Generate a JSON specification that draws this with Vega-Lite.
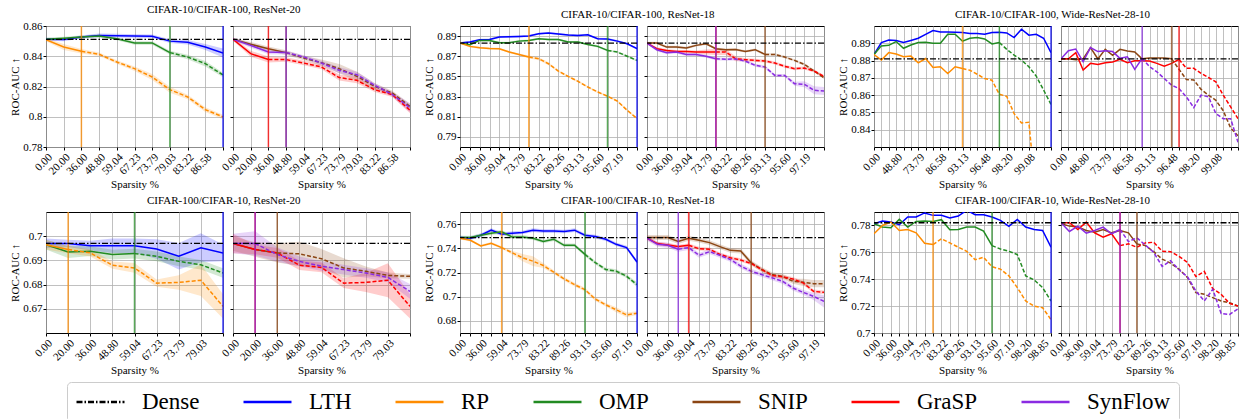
{
"$schema":"https://vega.github.io/schema/vega-lite/v6.json",
"padding":{"left":9,"top":3,"right":0,"bottom":0},
"config":{
 "font":"Liberation Serif",
 "view":{"stroke":"#000","strokeWidth":1},
 "axis":{"labelFont":"Liberation Serif","titleFont":"Liberation Serif","labelFontSize":11,"titleFontSize":11,"titleFontWeight":"normal","labelColor":"#000","titleColor":"#000","tickColor":"#000","tickSize":3,"domain":false,"gridColor":"#b0b0b0","gridWidth":0.8,"gridOpacity":1,"labelOverlap":false},
 "axisX":{"labelAngle":-45,"labelAlign":"right","labelBaseline":"top","labelPadding":1,"titlePadding":2,"labelFlush":false},
 "axisY":{"labelPadding":1,"titlePadding":2},
 "title":{"font":"Liberation Serif","fontSize":11,"fontWeight":"normal","anchor":"start","frame":"group","offset":5,"color":"#000","baseline":"bottom"},
 "legend":{"orient":"none","legendX":21,"legendY":356,"direction":"horizontal","columns":7,"symbolType":"stroke","symbolSize":2304,"symbolStrokeWidth":2.5,"symbolOpacity":1,"labelFont":"Liberation Serif","labelFontSize":23,"labelColor":"#000","labelOffset":16,"columnPadding":42,"padding":8,"strokeColor":"#cccccc","fillColor":"#ffffff","cornerRadius":4,"clipHeight":24,"labelLimit":300}
},
"datasets":{
"dn":[
{"p":"a","s":"Dense","y":0.8512},{"p":"b","s":"Dense","y":0.8512},
{"p":"c","s":"Dense","y":0.883},{"p":"d","s":"Dense","y":0.883},
{"p":"e","s":"Dense","y":0.881},{"p":"f","s":"Dense","y":0.881},
{"p":"g","s":"Dense","y":0.697},{"p":"h","s":"Dense","y":0.697},
{"p":"i","s":"Dense","y":0.7489},{"p":"j","s":"Dense","y":0.7489},
{"p":"k","s":"Dense","y":0.782},{"p":"l","s":"Dense","y":0.782}
],
"v":[
{"p":"a","s":"LTH","x":10},{"p":"a","s":"OMP","x":7},{"p":"a","s":"RP","x":2},
{"p":"b","s":"GraSP","x":2},{"p":"b","s":"SNIP","x":3},{"p":"b","s":"SynFlow","x":3},
{"p":"c","s":"LTH","x":18},{"p":"c","s":"OMP","x":15},{"p":"c","s":"RP","x":7},
{"p":"d","s":"SNIP","x":12},{"p":"d","s":"GraSP","x":7},{"p":"d","s":"SynFlow","x":7},
{"p":"e","s":"LTH","x":24},{"p":"e","s":"OMP","x":17},{"p":"e","s":"RP","x":12},
{"p":"f","s":"SNIP","x":15},{"p":"f","s":"GraSP","x":16},{"p":"f","s":"SynFlow","x":11},
{"p":"g","s":"LTH","x":8},{"p":"g","s":"OMP","x":4},{"p":"g","s":"RP","x":1},
{"p":"h","s":"GraSP","x":1},{"p":"h","s":"SynFlow","x":1},{"p":"h","s":"SNIP","x":2},
{"p":"i","s":"LTH","x":17},{"p":"i","s":"OMP","x":12},{"p":"i","s":"RP","x":4},
{"p":"j","s":"SNIP","x":10},{"p":"j","s":"GraSP","x":4},{"p":"j","s":"SynFlow","x":3},
{"p":"k","s":"LTH","x":21},{"p":"k","s":"OMP","x":14},{"p":"k","s":"RP","x":7},
{"p":"l","s":"SNIP","x":9},{"p":"l","s":"GraSP","x":7},{"p":"l","s":"SynFlow","x":7}
],
"d":[
{"p":"a","s":"LTH","x":0,"y":0.8512,"w":0,"l":0.8502,"h":0.8522},
{"p":"a","s":"LTH","x":1,"y":0.8510,"w":0,"l":0.8500,"h":0.8520},
{"p":"a","s":"LTH","x":2,"y":0.8527,"w":0,"l":0.8517,"h":0.8537},
{"p":"a","s":"LTH","x":3,"y":0.8538,"w":0,"l":0.8526,"h":0.8550},
{"p":"a","s":"LTH","x":4,"y":0.8536,"w":0,"l":0.8524,"h":0.8548},
{"p":"a","s":"LTH","x":5,"y":0.8534,"w":0,"l":0.8522,"h":0.8546},
{"p":"a","s":"LTH","x":6,"y":0.8532,"w":0,"l":0.8520,"h":0.8544},
{"p":"a","s":"LTH","x":7,"y":0.8500,"w":0,"l":0.8488,"h":0.8512},
{"p":"a","s":"LTH","x":8,"y":0.8492,"w":0,"l":0.8477,"h":0.8507},
{"p":"a","s":"LTH","x":9,"y":0.8461,"w":0,"l":0.8441,"h":0.8481},
{"p":"a","s":"LTH","x":10,"y":0.8422,"w":1,"l":0.8392,"h":0.8452},
{"p":"a","s":"OMP","x":0,"y":0.8512,"w":0,"l":0.8502,"h":0.8522},
{"p":"a","s":"OMP","x":1,"y":0.8519,"w":0,"l":0.8509,"h":0.8529},
{"p":"a","s":"OMP","x":2,"y":0.8527,"w":0,"l":0.8517,"h":0.8537},
{"p":"a","s":"OMP","x":3,"y":0.8534,"w":0,"l":0.8524,"h":0.8544},
{"p":"a","s":"OMP","x":4,"y":0.8516,"w":0,"l":0.8506,"h":0.8526},
{"p":"a","s":"OMP","x":5,"y":0.8488,"w":0,"l":0.8476,"h":0.8500},
{"p":"a","s":"OMP","x":6,"y":0.8488,"w":0,"l":0.8476,"h":0.8500},
{"p":"a","s":"OMP","x":7,"y":0.8424,"w":1,"l":0.8412,"h":0.8436},
{"p":"a","s":"OMP","x":8,"y":0.8395,"w":2,"l":0.8380,"h":0.8410},
{"p":"a","s":"OMP","x":9,"y":0.8351,"w":2,"l":0.8333,"h":0.8369},
{"p":"a","s":"OMP","x":10,"y":0.8276,"w":2,"l":0.8261,"h":0.8291},
{"p":"a","s":"RP","x":0,"y":0.8510,"w":0,"l":0.8500,"h":0.8520},
{"p":"a","s":"RP","x":1,"y":0.8461,"w":0,"l":0.8441,"h":0.8481},
{"p":"a","s":"RP","x":2,"y":0.8433,"w":1,"l":0.8418,"h":0.8448},
{"p":"a","s":"RP","x":3,"y":0.8413,"w":2,"l":0.8401,"h":0.8425},
{"p":"a","s":"RP","x":4,"y":0.8362,"w":2,"l":0.8350,"h":0.8374},
{"p":"a","s":"RP","x":5,"y":0.8318,"w":2,"l":0.8303,"h":0.8333},
{"p":"a","s":"RP","x":6,"y":0.8263,"w":2,"l":0.8243,"h":0.8283},
{"p":"a","s":"RP","x":7,"y":0.8179,"w":2,"l":0.8159,"h":0.8199},
{"p":"a","s":"RP","x":8,"y":0.8131,"w":2,"l":0.8116,"h":0.8146},
{"p":"a","s":"RP","x":9,"y":0.8047,"w":2,"l":0.8032,"h":0.8062},
{"p":"a","s":"RP","x":10,"y":0.7999,"w":2,"l":0.7984,"h":0.8014},
{"p":"b","s":"SNIP","x":0,"y":0.8512,"w":0,"l":0.8502,"h":0.8522},
{"p":"b","s":"SNIP","x":1,"y":0.8479,"w":0,"l":0.8464,"h":0.8494},
{"p":"b","s":"SNIP","x":2,"y":0.8450,"w":0,"l":0.8435,"h":0.8465},
{"p":"b","s":"SNIP","x":3,"y":0.8424,"w":1,"l":0.8409,"h":0.8439},
{"p":"b","s":"SNIP","x":4,"y":0.8388,"w":2,"l":0.8373,"h":0.8403},
{"p":"b","s":"SNIP","x":5,"y":0.8358,"w":2,"l":0.8338,"h":0.8378},
{"p":"b","s":"SNIP","x":6,"y":0.8318,"w":2,"l":0.8288,"h":0.8348},
{"p":"b","s":"SNIP","x":7,"y":0.8267,"w":2,"l":0.8237,"h":0.8297},
{"p":"b","s":"SNIP","x":8,"y":0.8201,"w":2,"l":0.8181,"h":0.8221},
{"p":"b","s":"SNIP","x":9,"y":0.8157,"w":2,"l":0.8142,"h":0.8172},
{"p":"b","s":"SNIP","x":10,"y":0.8069,"w":2,"l":0.8054,"h":0.8084},
{"p":"b","s":"GraSP","x":0,"y":0.8512,"w":0,"l":0.8502,"h":0.8522},
{"p":"b","s":"GraSP","x":1,"y":0.8417,"w":0,"l":0.8397,"h":0.8437},
{"p":"b","s":"GraSP","x":2,"y":0.8378,"w":1,"l":0.8358,"h":0.8398},
{"p":"b","s":"GraSP","x":3,"y":0.8378,"w":2,"l":0.8363,"h":0.8393},
{"p":"b","s":"GraSP","x":4,"y":0.8355,"w":2,"l":0.8340,"h":0.8370},
{"p":"b","s":"GraSP","x":5,"y":0.8329,"w":2,"l":0.8314,"h":0.8344},
{"p":"b","s":"GraSP","x":6,"y":0.8259,"w":2,"l":0.8239,"h":0.8279},
{"p":"b","s":"GraSP","x":7,"y":0.8241,"w":2,"l":0.8221,"h":0.8261},
{"p":"b","s":"GraSP","x":8,"y":0.8179,"w":2,"l":0.8164,"h":0.8194},
{"p":"b","s":"GraSP","x":9,"y":0.8146,"w":2,"l":0.8131,"h":0.8161},
{"p":"b","s":"GraSP","x":10,"y":0.8043,"w":2,"l":0.8023,"h":0.8063},
{"p":"b","s":"SynFlow","x":0,"y":0.8512,"w":0,"l":0.8502,"h":0.8522},
{"p":"b","s":"SynFlow","x":1,"y":0.8472,"w":0,"l":0.8457,"h":0.8487},
{"p":"b","s":"SynFlow","x":2,"y":0.8428,"w":0,"l":0.8413,"h":0.8443},
{"p":"b","s":"SynFlow","x":3,"y":0.8424,"w":1,"l":0.8412,"h":0.8436},
{"p":"b","s":"SynFlow","x":4,"y":0.8395,"w":2,"l":0.8383,"h":0.8407},
{"p":"b","s":"SynFlow","x":5,"y":0.8355,"w":2,"l":0.8340,"h":0.8370},
{"p":"b","s":"SynFlow","x":6,"y":0.8307,"w":2,"l":0.8287,"h":0.8327},
{"p":"b","s":"SynFlow","x":7,"y":0.8278,"w":2,"l":0.8258,"h":0.8298},
{"p":"b","s":"SynFlow","x":8,"y":0.8208,"w":2,"l":0.8193,"h":0.8223},
{"p":"b","s":"SynFlow","x":9,"y":0.8148,"w":2,"l":0.8133,"h":0.8163},
{"p":"b","s":"SynFlow","x":10,"y":0.8060,"w":2,"l":0.8030,"h":0.8090},
{"p":"c","s":"LTH","x":0,"y":0.8831,"w":0,"l":0.8821,"h":0.8841},
{"p":"c","s":"LTH","x":1,"y":0.8841,"w":0,"l":0.8831,"h":0.8851},
{"p":"c","s":"LTH","x":2,"y":0.8864,"w":0,"l":0.8854,"h":0.8874},
{"p":"c","s":"LTH","x":3,"y":0.8867,"w":0,"l":0.8857,"h":0.8877},
{"p":"c","s":"LTH","x":4,"y":0.8890,"w":0,"l":0.8880,"h":0.8900},
{"p":"c","s":"LTH","x":5,"y":0.8893,"w":0,"l":0.8883,"h":0.8903},
{"p":"c","s":"LTH","x":6,"y":0.8897,"w":0,"l":0.8887,"h":0.8907},
{"p":"c","s":"LTH","x":7,"y":0.8900,"w":0,"l":0.8890,"h":0.8910},
{"p":"c","s":"LTH","x":8,"y":0.8923,"w":0,"l":0.8913,"h":0.8933},
{"p":"c","s":"LTH","x":9,"y":0.8930,"w":0,"l":0.8920,"h":0.8940},
{"p":"c","s":"LTH","x":10,"y":0.8920,"w":0,"l":0.8910,"h":0.8930},
{"p":"c","s":"LTH","x":11,"y":0.8910,"w":0,"l":0.8900,"h":0.8920},
{"p":"c","s":"LTH","x":12,"y":0.8907,"w":0,"l":0.8897,"h":0.8917},
{"p":"c","s":"LTH","x":13,"y":0.8913,"w":0,"l":0.8903,"h":0.8923},
{"p":"c","s":"LTH","x":14,"y":0.8874,"w":0,"l":0.8864,"h":0.8884},
{"p":"c","s":"LTH","x":15,"y":0.8870,"w":0,"l":0.8860,"h":0.8880},
{"p":"c","s":"LTH","x":16,"y":0.8850,"w":0,"l":0.8840,"h":0.8860},
{"p":"c","s":"LTH","x":17,"y":0.8824,"w":0,"l":0.8814,"h":0.8834},
{"p":"c","s":"LTH","x":18,"y":0.8775,"w":1,"l":0.8765,"h":0.8785},
{"p":"c","s":"OMP","x":0,"y":0.8831,"w":0,"l":0.8821,"h":0.8841},
{"p":"c","s":"OMP","x":1,"y":0.8814,"w":0,"l":0.8804,"h":0.8824},
{"p":"c","s":"OMP","x":2,"y":0.8857,"w":0,"l":0.8847,"h":0.8867},
{"p":"c","s":"OMP","x":3,"y":0.8857,"w":0,"l":0.8847,"h":0.8867},
{"p":"c","s":"OMP","x":4,"y":0.8834,"w":0,"l":0.8824,"h":0.8844},
{"p":"c","s":"OMP","x":5,"y":0.8834,"w":0,"l":0.8824,"h":0.8844},
{"p":"c","s":"OMP","x":6,"y":0.8850,"w":0,"l":0.8840,"h":0.8860},
{"p":"c","s":"OMP","x":7,"y":0.8857,"w":0,"l":0.8847,"h":0.8867},
{"p":"c","s":"OMP","x":8,"y":0.8874,"w":0,"l":0.8864,"h":0.8884},
{"p":"c","s":"OMP","x":9,"y":0.8867,"w":0,"l":0.8857,"h":0.8877},
{"p":"c","s":"OMP","x":10,"y":0.8867,"w":0,"l":0.8857,"h":0.8877},
{"p":"c","s":"OMP","x":11,"y":0.8841,"w":0,"l":0.8831,"h":0.8851},
{"p":"c","s":"OMP","x":12,"y":0.8841,"w":0,"l":0.8831,"h":0.8851},
{"p":"c","s":"OMP","x":13,"y":0.8817,"w":0,"l":0.8807,"h":0.8827},
{"p":"c","s":"OMP","x":14,"y":0.8798,"w":0,"l":0.8788,"h":0.8808},
{"p":"c","s":"OMP","x":15,"y":0.8758,"w":1,"l":0.8748,"h":0.8768},
{"p":"c","s":"OMP","x":16,"y":0.8742,"w":2,"l":0.8732,"h":0.8752},
{"p":"c","s":"OMP","x":17,"y":0.8700,"w":2,"l":0.8690,"h":0.8710},
{"p":"c","s":"OMP","x":18,"y":0.8659,"w":2,"l":0.8649,"h":0.8669},
{"p":"c","s":"RP","x":0,"y":0.8831,"w":0,"l":0.8821,"h":0.8841},
{"p":"c","s":"RP","x":1,"y":0.8798,"w":0,"l":0.8788,"h":0.8808},
{"p":"c","s":"RP","x":2,"y":0.8784,"w":0,"l":0.8774,"h":0.8794},
{"p":"c","s":"RP","x":3,"y":0.8778,"w":0,"l":0.8768,"h":0.8788},
{"p":"c","s":"RP","x":4,"y":0.8775,"w":0,"l":0.8765,"h":0.8785},
{"p":"c","s":"RP","x":5,"y":0.8742,"w":0,"l":0.8732,"h":0.8752},
{"p":"c","s":"RP","x":6,"y":0.8718,"w":0,"l":0.8708,"h":0.8728},
{"p":"c","s":"RP","x":7,"y":0.8692,"w":1,"l":0.8677,"h":0.8707},
{"p":"c","s":"RP","x":8,"y":0.8676,"w":2,"l":0.8661,"h":0.8691},
{"p":"c","s":"RP","x":9,"y":0.8626,"w":2,"l":0.8611,"h":0.8641},
{"p":"c","s":"RP","x":10,"y":0.8553,"w":2,"l":0.8543,"h":0.8563},
{"p":"c","s":"RP","x":11,"y":0.8500,"w":2,"l":0.8490,"h":0.8510},
{"p":"c","s":"RP","x":12,"y":0.8451,"w":2,"l":0.8441,"h":0.8461},
{"p":"c","s":"RP","x":13,"y":0.8395,"w":2,"l":0.8385,"h":0.8405},
{"p":"c","s":"RP","x":14,"y":0.8346,"w":2,"l":0.8336,"h":0.8356},
{"p":"c","s":"RP","x":15,"y":0.8303,"w":2,"l":0.8293,"h":0.8313},
{"p":"c","s":"RP","x":16,"y":0.8256,"w":2,"l":0.8246,"h":0.8266},
{"p":"c","s":"RP","x":17,"y":0.8164,"w":2,"l":0.8154,"h":0.8174},
{"p":"c","s":"RP","x":18,"y":0.8082,"w":2,"l":0.8072,"h":0.8092},
{"p":"d","s":"SNIP","x":0,"y":0.8831,"w":0,"l":0.8819,"h":0.8843},
{"p":"d","s":"SNIP","x":1,"y":0.8831,"w":0,"l":0.8819,"h":0.8843},
{"p":"d","s":"SNIP","x":2,"y":0.8791,"w":0,"l":0.8779,"h":0.8803},
{"p":"d","s":"SNIP","x":3,"y":0.8791,"w":0,"l":0.8779,"h":0.8803},
{"p":"d","s":"SNIP","x":4,"y":0.8781,"w":0,"l":0.8769,"h":0.8793},
{"p":"d","s":"SNIP","x":5,"y":0.8808,"w":0,"l":0.8796,"h":0.8820},
{"p":"d","s":"SNIP","x":6,"y":0.8824,"w":0,"l":0.8812,"h":0.8836},
{"p":"d","s":"SNIP","x":7,"y":0.8775,"w":0,"l":0.8763,"h":0.8787},
{"p":"d","s":"SNIP","x":8,"y":0.8765,"w":0,"l":0.8753,"h":0.8777},
{"p":"d","s":"SNIP","x":9,"y":0.8767,"w":0,"l":0.8755,"h":0.8779},
{"p":"d","s":"SNIP","x":10,"y":0.8748,"w":0,"l":0.8736,"h":0.8760},
{"p":"d","s":"SNIP","x":11,"y":0.8765,"w":0,"l":0.8753,"h":0.8777},
{"p":"d","s":"SNIP","x":12,"y":0.8718,"w":1,"l":0.8706,"h":0.8730},
{"p":"d","s":"SNIP","x":13,"y":0.8718,"w":2,"l":0.8706,"h":0.8730},
{"p":"d","s":"SNIP","x":14,"y":0.8692,"w":2,"l":0.8680,"h":0.8704},
{"p":"d","s":"SNIP","x":15,"y":0.8659,"w":2,"l":0.8647,"h":0.8671},
{"p":"d","s":"SNIP","x":16,"y":0.8619,"w":2,"l":0.8607,"h":0.8631},
{"p":"d","s":"SNIP","x":17,"y":0.8553,"w":2,"l":0.8541,"h":0.8565},
{"p":"d","s":"SNIP","x":18,"y":0.8487,"w":2,"l":0.8475,"h":0.8499},
{"p":"d","s":"GraSP","x":0,"y":0.8831,"w":0,"l":0.8821,"h":0.8841},
{"p":"d","s":"GraSP","x":1,"y":0.8775,"w":0,"l":0.8760,"h":0.8790},
{"p":"d","s":"GraSP","x":2,"y":0.8758,"w":0,"l":0.8743,"h":0.8773},
{"p":"d","s":"GraSP","x":3,"y":0.8748,"w":0,"l":0.8733,"h":0.8763},
{"p":"d","s":"GraSP","x":4,"y":0.8748,"w":0,"l":0.8733,"h":0.8763},
{"p":"d","s":"GraSP","x":5,"y":0.8742,"w":0,"l":0.8727,"h":0.8757},
{"p":"d","s":"GraSP","x":6,"y":0.8742,"w":0,"l":0.8717,"h":0.8767},
{"p":"d","s":"GraSP","x":7,"y":0.8742,"w":1,"l":0.8712,"h":0.8772},
{"p":"d","s":"GraSP","x":8,"y":0.8742,"w":2,"l":0.8712,"h":0.8772},
{"p":"d","s":"GraSP","x":9,"y":0.8676,"w":2,"l":0.8651,"h":0.8701},
{"p":"d","s":"GraSP","x":10,"y":0.8666,"w":2,"l":0.8651,"h":0.8681},
{"p":"d","s":"GraSP","x":11,"y":0.8659,"w":2,"l":0.8644,"h":0.8674},
{"p":"d","s":"GraSP","x":12,"y":0.8652,"w":2,"l":0.8637,"h":0.8667},
{"p":"d","s":"GraSP","x":13,"y":0.8633,"w":2,"l":0.8618,"h":0.8648},
{"p":"d","s":"GraSP","x":14,"y":0.8600,"w":2,"l":0.8585,"h":0.8615},
{"p":"d","s":"GraSP","x":15,"y":0.8577,"w":2,"l":0.8562,"h":0.8592},
{"p":"d","s":"GraSP","x":16,"y":0.8583,"w":2,"l":0.8568,"h":0.8598},
{"p":"d","s":"GraSP","x":17,"y":0.8553,"w":2,"l":0.8538,"h":0.8568},
{"p":"d","s":"GraSP","x":18,"y":0.8500,"w":2,"l":0.8485,"h":0.8515},
{"p":"d","s":"SynFlow","x":0,"y":0.8831,"w":0,"l":0.8816,"h":0.8846},
{"p":"d","s":"SynFlow","x":1,"y":0.8765,"w":0,"l":0.8750,"h":0.8780},
{"p":"d","s":"SynFlow","x":2,"y":0.8735,"w":0,"l":0.8720,"h":0.8750},
{"p":"d","s":"SynFlow","x":3,"y":0.8742,"w":0,"l":0.8727,"h":0.8757},
{"p":"d","s":"SynFlow","x":4,"y":0.8718,"w":0,"l":0.8703,"h":0.8733},
{"p":"d","s":"SynFlow","x":5,"y":0.8718,"w":0,"l":0.8703,"h":0.8733},
{"p":"d","s":"SynFlow","x":6,"y":0.8699,"w":0,"l":0.8684,"h":0.8714},
{"p":"d","s":"SynFlow","x":7,"y":0.8676,"w":1,"l":0.8661,"h":0.8691},
{"p":"d","s":"SynFlow","x":8,"y":0.8670,"w":2,"l":0.8655,"h":0.8685},
{"p":"d","s":"SynFlow","x":9,"y":0.8673,"w":2,"l":0.8658,"h":0.8688},
{"p":"d","s":"SynFlow","x":10,"y":0.8652,"w":2,"l":0.8637,"h":0.8667},
{"p":"d","s":"SynFlow","x":11,"y":0.8610,"w":2,"l":0.8595,"h":0.8625},
{"p":"d","s":"SynFlow","x":12,"y":0.8593,"w":2,"l":0.8578,"h":0.8608},
{"p":"d","s":"SynFlow","x":13,"y":0.8510,"w":2,"l":0.8495,"h":0.8525},
{"p":"d","s":"SynFlow","x":14,"y":0.8510,"w":2,"l":0.8495,"h":0.8525},
{"p":"d","s":"SynFlow","x":15,"y":0.8428,"w":2,"l":0.8408,"h":0.8448},
{"p":"d","s":"SynFlow","x":16,"y":0.8422,"w":2,"l":0.8392,"h":0.8452},
{"p":"d","s":"SynFlow","x":17,"y":0.8362,"w":2,"l":0.8322,"h":0.8402},
{"p":"d","s":"SynFlow","x":18,"y":0.8355,"w":2,"l":0.8315,"h":0.8395},
{"p":"e","s":"LTH","x":0,"y":0.8835,"w":0},{"p":"e","s":"LTH","x":1,"y":0.8904,"w":0},{"p":"e","s":"LTH","x":2,"y":0.8919,"w":0},{"p":"e","s":"LTH","x":3,"y":0.8916,"w":0},{"p":"e","s":"LTH","x":4,"y":0.8904,"w":0},{"p":"e","s":"LTH","x":5,"y":0.8916,"w":0},{"p":"e","s":"LTH","x":6,"y":0.8929,"w":0},{"p":"e","s":"LTH","x":7,"y":0.8952,"w":0},{"p":"e","s":"LTH","x":8,"y":0.8974,"w":0},{"p":"e","s":"LTH","x":9,"y":0.8966,"w":0},{"p":"e","s":"LTH","x":10,"y":0.8966,"w":0},{"p":"e","s":"LTH","x":11,"y":0.8964,"w":0},{"p":"e","s":"LTH","x":12,"y":0.8962,"w":0},{"p":"e","s":"LTH","x":13,"y":0.8956,"w":0},{"p":"e","s":"LTH","x":14,"y":0.8956,"w":0},{"p":"e","s":"LTH","x":15,"y":0.8952,"w":0},{"p":"e","s":"LTH","x":16,"y":0.8962,"w":0},{"p":"e","s":"LTH","x":17,"y":0.8964,"w":0},{"p":"e","s":"LTH","x":18,"y":0.8960,"w":0},{"p":"e","s":"LTH","x":19,"y":0.8933,"w":0},{"p":"e","s":"LTH","x":20,"y":0.8981,"w":0},{"p":"e","s":"LTH","x":21,"y":0.8947,"w":0},{"p":"e","s":"LTH","x":22,"y":0.8952,"w":0},{"p":"e","s":"LTH","x":23,"y":0.8929,"w":0},{"p":"e","s":"LTH","x":24,"y":0.8846,"w":1},
{"p":"e","s":"OMP","x":0,"y":0.8835,"w":0},{"p":"e","s":"OMP","x":1,"y":0.8885,"w":0},{"p":"e","s":"OMP","x":2,"y":0.8888,"w":0},{"p":"e","s":"OMP","x":3,"y":0.8910,"w":0},{"p":"e","s":"OMP","x":4,"y":0.8871,"w":0},{"p":"e","s":"OMP","x":5,"y":0.8890,"w":0},{"p":"e","s":"OMP","x":6,"y":0.8904,"w":0},{"p":"e","s":"OMP","x":7,"y":0.8906,"w":0},{"p":"e","s":"OMP","x":8,"y":0.8900,"w":0},{"p":"e","s":"OMP","x":9,"y":0.8900,"w":0},{"p":"e","s":"OMP","x":10,"y":0.8952,"w":0},{"p":"e","s":"OMP","x":11,"y":0.8952,"w":0},{"p":"e","s":"OMP","x":12,"y":0.8912,"w":0},{"p":"e","s":"OMP","x":13,"y":0.8929,"w":0},{"p":"e","s":"OMP","x":14,"y":0.8933,"w":0},{"p":"e","s":"OMP","x":15,"y":0.8925,"w":0},{"p":"e","s":"OMP","x":16,"y":0.8896,"w":0},{"p":"e","s":"OMP","x":17,"y":0.8904,"w":1},{"p":"e","s":"OMP","x":18,"y":0.8865,"w":2},{"p":"e","s":"OMP","x":19,"y":0.8832,"w":2},{"p":"e","s":"OMP","x":20,"y":0.8803,"w":2},{"p":"e","s":"OMP","x":21,"y":0.8764,"w":2},{"p":"e","s":"OMP","x":22,"y":0.8710,"w":2},{"p":"e","s":"OMP","x":23,"y":0.8629,"w":2},{"p":"e","s":"OMP","x":24,"y":0.8547,"w":2},
{"p":"e","s":"RP","x":0,"y":0.8835,"w":0},{"p":"e","s":"RP","x":1,"y":0.8803,"w":0},{"p":"e","s":"RP","x":2,"y":0.8846,"w":0},{"p":"e","s":"RP","x":3,"y":0.8838,"w":0},{"p":"e","s":"RP","x":4,"y":0.8822,"w":0},{"p":"e","s":"RP","x":5,"y":0.8826,"w":0},{"p":"e","s":"RP","x":6,"y":0.8787,"w":0},{"p":"e","s":"RP","x":7,"y":0.8812,"w":0},{"p":"e","s":"RP","x":8,"y":0.8760,"w":0},{"p":"e","s":"RP","x":9,"y":0.8764,"w":0},{"p":"e","s":"RP","x":10,"y":0.8725,"w":0},{"p":"e","s":"RP","x":11,"y":0.8764,"w":0},{"p":"e","s":"RP","x":12,"y":0.8754,"w":1},{"p":"e","s":"RP","x":13,"y":0.8744,"w":2},{"p":"e","s":"RP","x":14,"y":0.8721,"w":2},{"p":"e","s":"RP","x":15,"y":0.8696,"w":2},{"p":"e","s":"RP","x":16,"y":0.8686,"w":2},{"p":"e","s":"RP","x":17,"y":0.8605,"w":2},{"p":"e","s":"RP","x":18,"y":0.8593,"w":2},{"p":"e","s":"RP","x":19,"y":0.8493,"w":2},{"p":"e","s":"RP","x":20,"y":0.8439,"w":2},{"p":"e","s":"RP","x":21,"y":0.8443,"w":2},{"p":"e","s":"RP","x":22,"y":0.8000,"w":2},{"p":"e","s":"RP","x":23,"y":0.7900,"w":2},{"p":"e","s":"RP","x":24,"y":0.7800,"w":2},
{"p":"f","s":"SNIP","x":0,"y":0.881,"w":0},{"p":"f","s":"SNIP","x":1,"y":0.881,"w":0},{"p":"f","s":"SNIP","x":2,"y":0.8805,"w":0},{"p":"f","s":"SNIP","x":3,"y":0.881,"w":0},{"p":"f","s":"SNIP","x":4,"y":0.8875,"w":0},{"p":"f","s":"SNIP","x":5,"y":0.881,"w":0},{"p":"f","s":"SNIP","x":6,"y":0.8865,"w":0},{"p":"f","s":"SNIP","x":7,"y":0.883,"w":0},{"p":"f","s":"SNIP","x":8,"y":0.8865,"w":0},{"p":"f","s":"SNIP","x":9,"y":0.8855,"w":0},{"p":"f","s":"SNIP","x":10,"y":0.885,"w":0},{"p":"f","s":"SNIP","x":11,"y":0.881,"w":0},{"p":"f","s":"SNIP","x":12,"y":0.8815,"w":0},{"p":"f","s":"SNIP","x":13,"y":0.8815,"w":0},{"p":"f","s":"SNIP","x":14,"y":0.8815,"w":0},{"p":"f","s":"SNIP","x":15,"y":0.881,"w":1},{"p":"f","s":"SNIP","x":16,"y":0.875,"w":2},{"p":"f","s":"SNIP","x":17,"y":0.869,"w":2},{"p":"f","s":"SNIP","x":18,"y":0.8688,"w":2},{"p":"f","s":"SNIP","x":19,"y":0.8633,"w":2},{"p":"f","s":"SNIP","x":20,"y":0.86,"w":2},{"p":"f","s":"SNIP","x":21,"y":0.857,"w":2},{"p":"f","s":"SNIP","x":22,"y":0.851,"w":2},{"p":"f","s":"SNIP","x":23,"y":0.841,"w":2},{"p":"f","s":"SNIP","x":24,"y":0.8365,"w":2},
{"p":"f","s":"GraSP","x":0,"y":0.881,"w":0},{"p":"f","s":"GraSP","x":1,"y":0.881,"w":0},{"p":"f","s":"GraSP","x":2,"y":0.8846,"w":0},{"p":"f","s":"GraSP","x":3,"y":0.8745,"w":0},{"p":"f","s":"GraSP","x":4,"y":0.8784,"w":0},{"p":"f","s":"GraSP","x":5,"y":0.8778,"w":0},{"p":"f","s":"GraSP","x":6,"y":0.8788,"w":0},{"p":"f","s":"GraSP","x":7,"y":0.8792,"w":0},{"p":"f","s":"GraSP","x":8,"y":0.8807,"w":0},{"p":"f","s":"GraSP","x":9,"y":0.8788,"w":0},{"p":"f","s":"GraSP","x":10,"y":0.8799,"w":0},{"p":"f","s":"GraSP","x":11,"y":0.8799,"w":0},{"p":"f","s":"GraSP","x":12,"y":0.8797,"w":0},{"p":"f","s":"GraSP","x":13,"y":0.8784,"w":0},{"p":"f","s":"GraSP","x":14,"y":0.8768,"w":0},{"p":"f","s":"GraSP","x":15,"y":0.8784,"w":0},{"p":"f","s":"GraSP","x":16,"y":0.8807,"w":1},{"p":"f","s":"GraSP","x":17,"y":0.8755,"w":2},{"p":"f","s":"GraSP","x":18,"y":0.8755,"w":2},{"p":"f","s":"GraSP","x":19,"y":0.8726,"w":2},{"p":"f","s":"GraSP","x":20,"y":0.8702,"w":2},{"p":"f","s":"GraSP","x":21,"y":0.8677,"w":2},{"p":"f","s":"GraSP","x":22,"y":0.86,"w":2},{"p":"f","s":"GraSP","x":23,"y":0.8532,"w":2},{"p":"f","s":"GraSP","x":24,"y":0.8464,"w":2},
{"p":"f","s":"SynFlow","x":0,"y":0.881,"w":0},{"p":"f","s":"SynFlow","x":1,"y":0.8857,"w":0},{"p":"f","s":"SynFlow","x":2,"y":0.8867,"w":0},{"p":"f","s":"SynFlow","x":3,"y":0.8793,"w":0},{"p":"f","s":"SynFlow","x":4,"y":0.8875,"w":0},{"p":"f","s":"SynFlow","x":5,"y":0.8852,"w":0},{"p":"f","s":"SynFlow","x":6,"y":0.8857,"w":0},{"p":"f","s":"SynFlow","x":7,"y":0.8852,"w":0},{"p":"f","s":"SynFlow","x":8,"y":0.8813,"w":0},{"p":"f","s":"SynFlow","x":9,"y":0.8822,"w":0},{"p":"f","s":"SynFlow","x":10,"y":0.8749,"w":0},{"p":"f","s":"SynFlow","x":11,"y":0.8813,"w":1},{"p":"f","s":"SynFlow","x":12,"y":0.8764,"w":2},{"p":"f","s":"SynFlow","x":13,"y":0.8735,"w":2},{"p":"f","s":"SynFlow","x":14,"y":0.8696,"w":2},{"p":"f","s":"SynFlow","x":15,"y":0.8658,"w":2},{"p":"f","s":"SynFlow","x":16,"y":0.8638,"w":2},{"p":"f","s":"SynFlow","x":17,"y":0.859,"w":2},{"p":"f","s":"SynFlow","x":18,"y":0.8528,"w":2},{"p":"f","s":"SynFlow","x":19,"y":0.86,"w":2},{"p":"f","s":"SynFlow","x":20,"y":0.859,"w":2},{"p":"f","s":"SynFlow","x":21,"y":0.8493,"w":2},{"p":"f","s":"SynFlow","x":22,"y":0.8464,"w":2},{"p":"f","s":"SynFlow","x":23,"y":0.8464,"w":2},{"p":"f","s":"SynFlow","x":24,"y":0.8328,"w":2},
{"p":"g","s":"LTH","x":0,"y":0.6970,"w":0,"l":0.6950,"h":0.6990},
{"p":"g","s":"LTH","x":1,"y":0.6970,"w":0,"l":0.6955,"h":0.6985},
{"p":"g","s":"LTH","x":2,"y":0.6961,"w":0,"l":0.6941,"h":0.6981},
{"p":"g","s":"LTH","x":3,"y":0.6961,"w":0,"l":0.6931,"h":0.6991},
{"p":"g","s":"LTH","x":4,"y":0.6961,"w":0,"l":0.6931,"h":0.6991},
{"p":"g","s":"LTH","x":5,"y":0.6947,"w":0,"l":0.6907,"h":0.6987},
{"p":"g","s":"LTH","x":6,"y":0.6917,"w":0,"l":0.6862,"h":0.6972},
{"p":"g","s":"LTH","x":7,"y":0.6952,"w":0,"l":0.6892,"h":0.7012},
{"p":"g","s":"LTH","x":8,"y":0.6931,"w":1,"l":0.6896,"h":0.6966},
{"p":"g","s":"OMP","x":0,"y":0.6965,"w":0,"l":0.6945,"h":0.6985},
{"p":"g","s":"OMP","x":1,"y":0.6935,"w":0,"l":0.6910,"h":0.6960},
{"p":"g","s":"OMP","x":2,"y":0.6938,"w":0,"l":0.6918,"h":0.6958},
{"p":"g","s":"OMP","x":3,"y":0.6924,"w":0,"l":0.6904,"h":0.6944},
{"p":"g","s":"OMP","x":4,"y":0.6928,"w":1,"l":0.6908,"h":0.6948},
{"p":"g","s":"OMP","x":5,"y":0.6917,"w":2,"l":0.6897,"h":0.6937},
{"p":"g","s":"OMP","x":6,"y":0.6896,"w":2,"l":0.6876,"h":0.6916},
{"p":"g","s":"OMP","x":7,"y":0.6882,"w":2,"l":0.6862,"h":0.6902},
{"p":"g","s":"OMP","x":8,"y":0.6848,"w":2,"l":0.6828,"h":0.6868},
{"p":"g","s":"RP","x":0,"y":0.6965,"w":0,"l":0.6945,"h":0.6985},
{"p":"g","s":"RP","x":1,"y":0.6945,"w":1,"l":0.6930,"h":0.6960},
{"p":"g","s":"RP","x":2,"y":0.6931,"w":2,"l":0.6916,"h":0.6946},
{"p":"g","s":"RP","x":3,"y":0.6880,"w":2,"l":0.6865,"h":0.6895},
{"p":"g","s":"RP","x":4,"y":0.6869,"w":2,"l":0.6849,"h":0.6889},
{"p":"g","s":"RP","x":5,"y":0.6806,"w":2,"l":0.6791,"h":0.6821},
{"p":"g","s":"RP","x":6,"y":0.6809,"w":2,"l":0.6779,"h":0.6839},
{"p":"g","s":"RP","x":7,"y":0.6818,"w":2,"l":0.6753,"h":0.6883},
{"p":"g","s":"RP","x":8,"y":0.6710,"w":2,"l":0.6660,"h":0.6760},
{"p":"h","s":"SNIP","x":0,"y":0.6970,"w":0,"l":0.6940,"h":0.7000},
{"p":"h","s":"SNIP","x":1,"y":0.6945,"w":0,"l":0.6915,"h":0.6975},
{"p":"h","s":"SNIP","x":2,"y":0.6931,"w":1,"l":0.6891,"h":0.6971},
{"p":"h","s":"SNIP","x":3,"y":0.6927,"w":2,"l":0.6877,"h":0.6977},
{"p":"h","s":"SNIP","x":4,"y":0.6907,"w":2,"l":0.6867,"h":0.6947},
{"p":"h","s":"SNIP","x":5,"y":0.6869,"w":2,"l":0.6829,"h":0.6909},
{"p":"h","s":"SNIP","x":6,"y":0.6855,"w":2,"l":0.6835,"h":0.6875},
{"p":"h","s":"SNIP","x":7,"y":0.6838,"w":2,"l":0.6826,"h":0.6850},
{"p":"h","s":"SNIP","x":8,"y":0.6834,"w":2,"l":0.6824,"h":0.6844},
{"p":"h","s":"GraSP","x":0,"y":0.6970,"w":0,"l":0.6930,"h":0.7010},
{"p":"h","s":"GraSP","x":1,"y":0.6945,"w":1,"l":0.6925,"h":0.6965},
{"p":"h","s":"GraSP","x":2,"y":0.6931,"w":2,"l":0.6911,"h":0.6951},
{"p":"h","s":"GraSP","x":3,"y":0.6880,"w":2,"l":0.6860,"h":0.6900},
{"p":"h","s":"GraSP","x":4,"y":0.6871,"w":2,"l":0.6851,"h":0.6891},
{"p":"h","s":"GraSP","x":5,"y":0.6806,"w":2,"l":0.6786,"h":0.6826},
{"p":"h","s":"GraSP","x":6,"y":0.6809,"w":2,"l":0.6769,"h":0.6849},
{"p":"h","s":"GraSP","x":7,"y":0.6818,"w":2,"l":0.6748,"h":0.6888},
{"p":"h","s":"GraSP","x":8,"y":0.6710,"w":2,"l":0.6660,"h":0.6760},
{"p":"h","s":"SynFlow","x":0,"y":0.6970,"w":0,"l":0.6930,"h":0.7010},
{"p":"h","s":"SynFlow","x":1,"y":0.6970,"w":1,"l":0.6920,"h":0.7020},
{"p":"h","s":"SynFlow","x":2,"y":0.6924,"w":2,"l":0.6894,"h":0.6954},
{"p":"h","s":"SynFlow","x":3,"y":0.6896,"w":2,"l":0.6876,"h":0.6916},
{"p":"h","s":"SynFlow","x":4,"y":0.6876,"w":2,"l":0.6856,"h":0.6896},
{"p":"h","s":"SynFlow","x":5,"y":0.6862,"w":2,"l":0.6842,"h":0.6882},
{"p":"h","s":"SynFlow","x":6,"y":0.6848,"w":2,"l":0.6828,"h":0.6868},
{"p":"h","s":"SynFlow","x":7,"y":0.6830,"w":2,"l":0.6810,"h":0.6850},
{"p":"h","s":"SynFlow","x":8,"y":0.6772,"w":2,"l":0.6742,"h":0.6802},
{"p":"i","s":"LTH","x":0,"y":0.7489,"w":0,"l":0.7474,"h":0.7504},
{"p":"i","s":"LTH","x":1,"y":0.7483,"w":0,"l":0.7468,"h":0.7498},
{"p":"i","s":"LTH","x":2,"y":0.7508,"w":0,"l":0.7493,"h":0.7523},
{"p":"i","s":"LTH","x":3,"y":0.7550,"w":0,"l":0.7535,"h":0.7565},
{"p":"i","s":"LTH","x":4,"y":0.7517,"w":0,"l":0.7502,"h":0.7532},
{"p":"i","s":"LTH","x":5,"y":0.7525,"w":0,"l":0.7510,"h":0.7540},
{"p":"i","s":"LTH","x":6,"y":0.7531,"w":0,"l":0.7516,"h":0.7546},
{"p":"i","s":"LTH","x":7,"y":0.7550,"w":0,"l":0.7535,"h":0.7565},
{"p":"i","s":"LTH","x":8,"y":0.7542,"w":0,"l":0.7527,"h":0.7557},
{"p":"i","s":"LTH","x":9,"y":0.7542,"w":0,"l":0.7527,"h":0.7557},
{"p":"i","s":"LTH","x":10,"y":0.7539,"w":0,"l":0.7524,"h":0.7554},
{"p":"i","s":"LTH","x":11,"y":0.7550,"w":0,"l":0.7535,"h":0.7565},
{"p":"i","s":"LTH","x":12,"y":0.7508,"w":0,"l":0.7493,"h":0.7523},
{"p":"i","s":"LTH","x":13,"y":0.7497,"w":0,"l":0.7482,"h":0.7512},
{"p":"i","s":"LTH","x":14,"y":0.7475,"w":0,"l":0.7460,"h":0.7490},
{"p":"i","s":"LTH","x":15,"y":0.7433,"w":0,"l":0.7418,"h":0.7448},
{"p":"i","s":"LTH","x":16,"y":0.7406,"w":0,"l":0.7391,"h":0.7421},
{"p":"i","s":"LTH","x":17,"y":0.7286,"w":1,"l":0.7271,"h":0.7301},
{"p":"i","s":"OMP","x":0,"y":0.7489,"w":0,"l":0.7474,"h":0.7504},
{"p":"i","s":"OMP","x":1,"y":0.7489,"w":0,"l":0.7474,"h":0.7504},
{"p":"i","s":"OMP","x":2,"y":0.7508,"w":0,"l":0.7493,"h":0.7523},
{"p":"i","s":"OMP","x":3,"y":0.7525,"w":0,"l":0.7510,"h":0.7540},
{"p":"i","s":"OMP","x":4,"y":0.7536,"w":0,"l":0.7521,"h":0.7551},
{"p":"i","s":"OMP","x":5,"y":0.7494,"w":0,"l":0.7479,"h":0.7509},
{"p":"i","s":"OMP","x":6,"y":0.7494,"w":0,"l":0.7479,"h":0.7509},
{"p":"i","s":"OMP","x":7,"y":0.7483,"w":0,"l":0.7468,"h":0.7498},
{"p":"i","s":"OMP","x":8,"y":0.7456,"w":0,"l":0.7441,"h":0.7471},
{"p":"i","s":"OMP","x":9,"y":0.7475,"w":0,"l":0.7460,"h":0.7490},
{"p":"i","s":"OMP","x":10,"y":0.7425,"w":0,"l":0.7410,"h":0.7440},
{"p":"i","s":"OMP","x":11,"y":0.7425,"w":0,"l":0.7410,"h":0.7440},
{"p":"i","s":"OMP","x":12,"y":0.7350,"w":1,"l":0.7335,"h":0.7365},
{"p":"i","s":"OMP","x":13,"y":0.7281,"w":2,"l":0.7266,"h":0.7296},
{"p":"i","s":"OMP","x":14,"y":0.7225,"w":2,"l":0.7210,"h":0.7240},
{"p":"i","s":"OMP","x":15,"y":0.7211,"w":2,"l":0.7196,"h":0.7226},
{"p":"i","s":"OMP","x":16,"y":0.7169,"w":2,"l":0.7154,"h":0.7184},
{"p":"i","s":"OMP","x":17,"y":0.7100,"w":2,"l":0.7080,"h":0.7120},
{"p":"i","s":"RP","x":0,"y":0.7483,"w":0,"l":0.7473,"h":0.7493},
{"p":"i","s":"RP","x":1,"y":0.7466,"w":0,"l":0.7456,"h":0.7476},
{"p":"i","s":"RP","x":2,"y":0.7420,"w":0,"l":0.7410,"h":0.7430},
{"p":"i","s":"RP","x":3,"y":0.7442,"w":0,"l":0.7432,"h":0.7452},
{"p":"i","s":"RP","x":4,"y":0.7406,"w":1,"l":0.7396,"h":0.7416},
{"p":"i","s":"RP","x":5,"y":0.7364,"w":2,"l":0.7349,"h":0.7379},
{"p":"i","s":"RP","x":6,"y":0.7322,"w":2,"l":0.7292,"h":0.7352},
{"p":"i","s":"RP","x":7,"y":0.7294,"w":2,"l":0.7254,"h":0.7334},
{"p":"i","s":"RP","x":8,"y":0.7258,"w":2,"l":0.7238,"h":0.7278},
{"p":"i","s":"RP","x":9,"y":0.7203,"w":2,"l":0.7188,"h":0.7218},
{"p":"i","s":"RP","x":10,"y":0.7147,"w":2,"l":0.7132,"h":0.7162},
{"p":"i","s":"RP","x":11,"y":0.7100,"w":2,"l":0.7085,"h":0.7115},
{"p":"i","s":"RP","x":12,"y":0.7058,"w":2,"l":0.7043,"h":0.7073},
{"p":"i","s":"RP","x":13,"y":0.6980,"w":2,"l":0.6965,"h":0.6995},
{"p":"i","s":"RP","x":14,"y":0.6933,"w":2,"l":0.6918,"h":0.6948},
{"p":"i","s":"RP","x":15,"y":0.6892,"w":2,"l":0.6872,"h":0.6912},
{"p":"i","s":"RP","x":16,"y":0.6850,"w":2,"l":0.6830,"h":0.6870},
{"p":"i","s":"RP","x":17,"y":0.6864,"w":2,"l":0.6849,"h":0.6879},
{"p":"j","s":"SNIP","x":0,"y":0.7489,"w":0,"l":0.7469,"h":0.7509},
{"p":"j","s":"SNIP","x":1,"y":0.7489,"w":0,"l":0.7469,"h":0.7509},
{"p":"j","s":"SNIP","x":2,"y":0.7489,"w":0,"l":0.7469,"h":0.7509},
{"p":"j","s":"SNIP","x":3,"y":0.7456,"w":0,"l":0.7436,"h":0.7476},
{"p":"j","s":"SNIP","x":4,"y":0.7483,"w":0,"l":0.7463,"h":0.7503},
{"p":"j","s":"SNIP","x":5,"y":0.7467,"w":0,"l":0.7447,"h":0.7487},
{"p":"j","s":"SNIP","x":6,"y":0.7447,"w":0,"l":0.7427,"h":0.7467},
{"p":"j","s":"SNIP","x":7,"y":0.7414,"w":0,"l":0.7394,"h":0.7434},
{"p":"j","s":"SNIP","x":8,"y":0.7383,"w":0,"l":0.7363,"h":0.7403},
{"p":"j","s":"SNIP","x":9,"y":0.7378,"w":0,"l":0.7358,"h":0.7398},
{"p":"j","s":"SNIP","x":10,"y":0.7281,"w":1,"l":0.7261,"h":0.7301},
{"p":"j","s":"SNIP","x":11,"y":0.7225,"w":2,"l":0.7205,"h":0.7245},
{"p":"j","s":"SNIP","x":12,"y":0.7183,"w":2,"l":0.7163,"h":0.7203},
{"p":"j","s":"SNIP","x":13,"y":0.7169,"w":2,"l":0.7149,"h":0.7189},
{"p":"j","s":"SNIP","x":14,"y":0.7128,"w":2,"l":0.7108,"h":0.7148},
{"p":"j","s":"SNIP","x":15,"y":0.7119,"w":2,"l":0.7089,"h":0.7149},
{"p":"j","s":"SNIP","x":16,"y":0.7108,"w":2,"l":0.7078,"h":0.7138},
{"p":"j","s":"SNIP","x":17,"y":0.7108,"w":2,"l":0.7078,"h":0.7138},
{"p":"j","s":"GraSP","x":0,"y":0.7483,"w":0,"l":0.7468,"h":0.7498},
{"p":"j","s":"GraSP","x":1,"y":0.7439,"w":0,"l":0.7424,"h":0.7454},
{"p":"j","s":"GraSP","x":2,"y":0.7428,"w":0,"l":0.7413,"h":0.7443},
{"p":"j","s":"GraSP","x":3,"y":0.7414,"w":0,"l":0.7399,"h":0.7429},
{"p":"j","s":"GraSP","x":4,"y":0.7425,"w":1,"l":0.7410,"h":0.7440},
{"p":"j","s":"GraSP","x":5,"y":0.7397,"w":2,"l":0.7382,"h":0.7412},
{"p":"j","s":"GraSP","x":6,"y":0.7392,"w":2,"l":0.7377,"h":0.7407},
{"p":"j","s":"GraSP","x":7,"y":0.7350,"w":2,"l":0.7335,"h":0.7365},
{"p":"j","s":"GraSP","x":8,"y":0.7322,"w":2,"l":0.7307,"h":0.7337},
{"p":"j","s":"GraSP","x":9,"y":0.7303,"w":2,"l":0.7288,"h":0.7318},
{"p":"j","s":"GraSP","x":10,"y":0.7275,"w":2,"l":0.7260,"h":0.7290},
{"p":"j","s":"GraSP","x":11,"y":0.7225,"w":2,"l":0.7210,"h":0.7240},
{"p":"j","s":"GraSP","x":12,"y":0.7175,"w":2,"l":0.7160,"h":0.7190},
{"p":"j","s":"GraSP","x":13,"y":0.7164,"w":2,"l":0.7149,"h":0.7179},
{"p":"j","s":"GraSP","x":14,"y":0.7147,"w":2,"l":0.7132,"h":0.7162},
{"p":"j","s":"GraSP","x":15,"y":0.7114,"w":2,"l":0.7099,"h":0.7129},
{"p":"j","s":"GraSP","x":16,"y":0.7044,"w":2,"l":0.7029,"h":0.7059},
{"p":"j","s":"GraSP","x":17,"y":0.7036,"w":2,"l":0.7021,"h":0.7051},
{"p":"j","s":"SynFlow","x":0,"y":0.7483,"w":0,"l":0.7463,"h":0.7503},
{"p":"j","s":"SynFlow","x":1,"y":0.7433,"w":0,"l":0.7413,"h":0.7453},
{"p":"j","s":"SynFlow","x":2,"y":0.7425,"w":0,"l":0.7405,"h":0.7445},
{"p":"j","s":"SynFlow","x":3,"y":0.7392,"w":1,"l":0.7372,"h":0.7412},
{"p":"j","s":"SynFlow","x":4,"y":0.7406,"w":2,"l":0.7386,"h":0.7426},
{"p":"j","s":"SynFlow","x":5,"y":0.7342,"w":2,"l":0.7322,"h":0.7362},
{"p":"j","s":"SynFlow","x":6,"y":0.7372,"w":2,"l":0.7352,"h":0.7392},
{"p":"j","s":"SynFlow","x":7,"y":0.7342,"w":2,"l":0.7322,"h":0.7362},
{"p":"j","s":"SynFlow","x":8,"y":0.7308,"w":2,"l":0.7288,"h":0.7328},
{"p":"j","s":"SynFlow","x":9,"y":0.7253,"w":2,"l":0.7233,"h":0.7273},
{"p":"j","s":"SynFlow","x":10,"y":0.7211,"w":2,"l":0.7191,"h":0.7231},
{"p":"j","s":"SynFlow","x":11,"y":0.7183,"w":2,"l":0.7163,"h":0.7203},
{"p":"j","s":"SynFlow","x":12,"y":0.7156,"w":2,"l":0.7136,"h":0.7176},
{"p":"j","s":"SynFlow","x":13,"y":0.7128,"w":2,"l":0.7108,"h":0.7148},
{"p":"j","s":"SynFlow","x":14,"y":0.7072,"w":2,"l":0.7052,"h":0.7092},
{"p":"j","s":"SynFlow","x":15,"y":0.7036,"w":2,"l":0.7016,"h":0.7056},
{"p":"j","s":"SynFlow","x":16,"y":0.7003,"w":2,"l":0.6973,"h":0.7033},
{"p":"j","s":"SynFlow","x":17,"y":0.6961,"w":2,"l":0.6911,"h":0.7011},
{"p":"k","s":"LTH","x":0,"y":0.7813,"w":0},{"p":"k","s":"LTH","x":1,"y":0.7833,"w":0},{"p":"k","s":"LTH","x":2,"y":0.7825,"w":0},{"p":"k","s":"LTH","x":3,"y":0.7805,"w":0},{"p":"k","s":"LTH","x":4,"y":0.7863,"w":0},{"p":"k","s":"LTH","x":5,"y":0.7863,"w":0},{"p":"k","s":"LTH","x":6,"y":0.7893,"w":0},{"p":"k","s":"LTH","x":7,"y":0.7875,"w":0},{"p":"k","s":"LTH","x":8,"y":0.7875,"w":0},{"p":"k","s":"LTH","x":9,"y":0.7855,"w":0},{"p":"k","s":"LTH","x":10,"y":0.7870,"w":0},{"p":"k","s":"LTH","x":11,"y":0.7913,"w":0},{"p":"k","s":"LTH","x":12,"y":0.7880,"w":0},{"p":"k","s":"LTH","x":13,"y":0.7880,"w":0},{"p":"k","s":"LTH","x":14,"y":0.7863,"w":0},{"p":"k","s":"LTH","x":15,"y":0.7838,"w":0},{"p":"k","s":"LTH","x":16,"y":0.7793,"w":0},{"p":"k","s":"LTH","x":17,"y":0.7845,"w":0},{"p":"k","s":"LTH","x":18,"y":0.7788,"w":0},{"p":"k","s":"LTH","x":19,"y":0.7770,"w":0},{"p":"k","s":"LTH","x":20,"y":0.7763,"w":0},{"p":"k","s":"LTH","x":21,"y":0.7638,"w":1},
{"p":"k","s":"OMP","x":0,"y":0.7813,"w":0},{"p":"k","s":"OMP","x":1,"y":0.7788,"w":0},{"p":"k","s":"OMP","x":2,"y":0.7783,"w":0},{"p":"k","s":"OMP","x":3,"y":0.7845,"w":0},{"p":"k","s":"OMP","x":4,"y":0.7788,"w":0},{"p":"k","s":"OMP","x":5,"y":0.7830,"w":0},{"p":"k","s":"OMP","x":6,"y":0.7833,"w":0},{"p":"k","s":"OMP","x":7,"y":0.7830,"w":0},{"p":"k","s":"OMP","x":8,"y":0.7843,"w":0},{"p":"k","s":"OMP","x":9,"y":0.7768,"w":0},{"p":"k","s":"OMP","x":10,"y":0.7770,"w":0},{"p":"k","s":"OMP","x":11,"y":0.7788,"w":0},{"p":"k","s":"OMP","x":12,"y":0.7788,"w":0},{"p":"k","s":"OMP","x":13,"y":0.7758,"w":0},{"p":"k","s":"OMP","x":14,"y":0.7650,"w":1},{"p":"k","s":"OMP","x":15,"y":0.7625,"w":2},{"p":"k","s":"OMP","x":16,"y":0.7608,"w":2},{"p":"k","s":"OMP","x":17,"y":0.7583,"w":2},{"p":"k","s":"OMP","x":18,"y":0.7425,"w":2},{"p":"k","s":"OMP","x":19,"y":0.7395,"w":2},{"p":"k","s":"OMP","x":20,"y":0.7338,"w":2},{"p":"k","s":"OMP","x":21,"y":0.7238,"w":2},
{"p":"k","s":"RP","x":0,"y":0.7738,"w":0},{"p":"k","s":"RP","x":1,"y":0.7800,"w":0},{"p":"k","s":"RP","x":2,"y":0.7825,"w":0},{"p":"k","s":"RP","x":3,"y":0.7763,"w":0},{"p":"k","s":"RP","x":4,"y":0.7770,"w":0},{"p":"k","s":"RP","x":5,"y":0.7745,"w":0},{"p":"k","s":"RP","x":6,"y":0.7668,"w":0},{"p":"k","s":"RP","x":7,"y":0.7658,"w":1},{"p":"k","s":"RP","x":8,"y":0.7700,"w":2},{"p":"k","s":"RP","x":9,"y":0.7670,"w":2},{"p":"k","s":"RP","x":10,"y":0.7638,"w":2},{"p":"k","s":"RP","x":11,"y":0.7608,"w":2},{"p":"k","s":"RP","x":12,"y":0.7545,"w":2},{"p":"k","s":"RP","x":13,"y":0.7563,"w":2},{"p":"k","s":"RP","x":14,"y":0.7493,"w":2},{"p":"k","s":"RP","x":15,"y":0.7475,"w":2},{"p":"k","s":"RP","x":16,"y":0.7425,"w":2},{"p":"k","s":"RP","x":17,"y":0.7338,"w":2},{"p":"k","s":"RP","x":18,"y":0.7238,"w":2},{"p":"k","s":"RP","x":19,"y":0.7200,"w":2},{"p":"k","s":"RP","x":20,"y":0.7188,"w":2},{"p":"k","s":"RP","x":21,"y":0.7100,"w":2},
{"p":"l","s":"SNIP","x":0,"y":0.7813,"w":0},{"p":"l","s":"SNIP","x":1,"y":0.7795,"w":0},{"p":"l","s":"SNIP","x":2,"y":0.7788,"w":0},{"p":"l","s":"SNIP","x":3,"y":0.7763,"w":0},{"p":"l","s":"SNIP","x":4,"y":0.7750,"w":0},{"p":"l","s":"SNIP","x":5,"y":0.7770,"w":0},{"p":"l","s":"SNIP","x":6,"y":0.7745,"w":0},{"p":"l","s":"SNIP","x":7,"y":0.7763,"w":0},{"p":"l","s":"SNIP","x":8,"y":0.7745,"w":0},{"p":"l","s":"SNIP","x":9,"y":0.7663,"w":1},{"p":"l","s":"SNIP","x":10,"y":0.7650,"w":2},{"p":"l","s":"SNIP","x":11,"y":0.7605,"w":2},{"p":"l","s":"SNIP","x":12,"y":0.7550,"w":2},{"p":"l","s":"SNIP","x":13,"y":0.7520,"w":2},{"p":"l","s":"SNIP","x":14,"y":0.7475,"w":2},{"p":"l","s":"SNIP","x":15,"y":0.7413,"w":2},{"p":"l","s":"SNIP","x":16,"y":0.7300,"w":2},{"p":"l","s":"SNIP","x":17,"y":0.7288,"w":2},{"p":"l","s":"SNIP","x":18,"y":0.7263,"w":2},{"p":"l","s":"SNIP","x":19,"y":0.7238,"w":2},{"p":"l","s":"SNIP","x":20,"y":0.7225,"w":2},{"p":"l","s":"SNIP","x":21,"y":0.7200,"w":2},
{"p":"l","s":"GraSP","x":0,"y":0.7820,"w":0},{"p":"l","s":"GraSP","x":1,"y":0.7820,"w":0},{"p":"l","s":"GraSP","x":2,"y":0.7770,"w":0},{"p":"l","s":"GraSP","x":3,"y":0.7825,"w":0},{"p":"l","s":"GraSP","x":4,"y":0.7745,"w":0},{"p":"l","s":"GraSP","x":5,"y":0.7713,"w":0},{"p":"l","s":"GraSP","x":6,"y":0.7738,"w":0},{"p":"l","s":"GraSP","x":7,"y":0.7650,"w":1},{"p":"l","s":"GraSP","x":8,"y":0.7663,"w":2},{"p":"l","s":"GraSP","x":9,"y":0.7638,"w":2},{"p":"l","s":"GraSP","x":10,"y":0.7670,"w":2},{"p":"l","s":"GraSP","x":11,"y":0.7675,"w":2},{"p":"l","s":"GraSP","x":12,"y":0.7608,"w":2},{"p":"l","s":"GraSP","x":13,"y":0.7605,"w":2},{"p":"l","s":"GraSP","x":14,"y":0.7570,"w":2},{"p":"l","s":"GraSP","x":15,"y":0.7525,"w":2},{"p":"l","s":"GraSP","x":16,"y":0.7420,"w":2},{"p":"l","s":"GraSP","x":17,"y":0.7458,"w":2},{"p":"l","s":"GraSP","x":18,"y":0.7330,"w":2},{"p":"l","s":"GraSP","x":19,"y":0.7288,"w":2},{"p":"l","s":"GraSP","x":20,"y":0.7220,"w":2},{"p":"l","s":"GraSP","x":21,"y":0.7200,"w":2},
{"p":"l","s":"SynFlow","x":0,"y":0.7820,"w":0},{"p":"l","s":"SynFlow","x":1,"y":0.7755,"w":0},{"p":"l","s":"SynFlow","x":2,"y":0.7795,"w":0},{"p":"l","s":"SynFlow","x":3,"y":0.7743,"w":0},{"p":"l","s":"SynFlow","x":4,"y":0.7763,"w":0},{"p":"l","s":"SynFlow","x":5,"y":0.7788,"w":0},{"p":"l","s":"SynFlow","x":6,"y":0.7738,"w":0},{"p":"l","s":"SynFlow","x":7,"y":0.7770,"w":1},{"p":"l","s":"SynFlow","x":8,"y":0.7680,"w":2},{"p":"l","s":"SynFlow","x":9,"y":0.7708,"w":2},{"p":"l","s":"SynFlow","x":10,"y":0.7655,"w":2},{"p":"l","s":"SynFlow","x":11,"y":0.7600,"w":2},{"p":"l","s":"SynFlow","x":12,"y":0.7495,"w":2},{"p":"l","s":"SynFlow","x":13,"y":0.7538,"w":2},{"p":"l","s":"SynFlow","x":14,"y":0.7470,"w":2},{"p":"l","s":"SynFlow","x":15,"y":0.7418,"w":2},{"p":"l","s":"SynFlow","x":16,"y":0.7313,"w":2},{"p":"l","s":"SynFlow","x":17,"y":0.7238,"w":2},{"p":"l","s":"SynFlow","x":18,"y":0.7325,"w":2},{"p":"l","s":"SynFlow","x":19,"y":0.7145,"w":2},{"p":"l","s":"SynFlow","x":20,"y":0.7138,"w":2},{"p":"l","s":"SynFlow","x":21,"y":0.7180,"w":2}
]
},
"columns":8,
"spacing":{"row":65,"column":10},
"bounds":"flush",
"resolve":{"scale":{"color":"shared","strokeDash":"shared"},"legend":{"color":"shared","strokeDash":"shared"}},
"concat":[
{"width":177,"height":121,"title":{"text":"CIFAR-10/CIFAR-100, ResNet-20","dx":101},"layer":[
 {"data":{"name":"d"},"transform":[{"filter":"datum.p=='a' && isValid(datum.l)"}],"mark":{"type":"area","opacity":0.2,"clip":true},"encoding":{"x":{"field":"x","type":"quantitative","scale":{"domain":[0,10],"nice":false,"zero":false},"axis":{"title":"Sparsity %","values":[0,1,2,3,4,5,6,7,8,9,10],"labelExpr":"['0.00','20.00','36.00','48.80','59.04','67.23','73.79','79.03','83.22','86.58',''][datum.value]","grid":true}},"y":{"field":"l","type":"quantitative","scale":{"domain":[0.78,0.86],"nice":false,"zero":false},"axis":{"title":"ROC-AUC ↑","values":[0.78,0.8,0.82,0.84,0.86],"format":".2~f","grid":true},"stack":null},"y2":{"field":"h"},"color":{"field":"s","type":"nominal","scale":{"domain":["Dense","LTH","RP","OMP","SNIP","GraSP","SynFlow"],"range":["#000000","#0000ff","#ff8c00","#228b22","#8b4513","#ff0000","#8a2be2"]},"legend":{"title":null}}}},
 {"data":{"name":"d"},"transform":[{"filter":"datum.p=='a' && datum.w<=1"}],"mark":{"type":"line","strokeWidth":1.5,"clip":true},"encoding":{"x":{"field":"x","type":"quantitative","scale":{"domain":[0,10],"nice":false,"zero":false},"axis":{"title":"Sparsity %","values":[0,1,2,3,4,5,6,7,8,9,10],"labelExpr":"['0.00','20.00','36.00','48.80','59.04','67.23','73.79','79.03','83.22','86.58',''][datum.value]","grid":true}},"y":{"field":"y","type":"quantitative","scale":{"domain":[0.78,0.86],"nice":false,"zero":false},"axis":{"title":"ROC-AUC ↑","values":[0.78,0.8,0.82,0.84,0.86],"format":".2~f","grid":true}},"color":{"field":"s","type":"nominal","legend":{"title":null}}}},
 {"data":{"name":"d"},"transform":[{"filter":"datum.p=='a' && datum.w>=1"}],"mark":{"type":"line","strokeWidth":1.5,"strokeDash":[4,2],"clip":true},"encoding":{"x":{"field":"x","type":"quantitative","scale":{"domain":[0,10],"nice":false,"zero":false},"axis":{"title":"Sparsity %","values":[0,1,2,3,4,5,6,7,8,9,10],"labelExpr":"['0.00','20.00','36.00','48.80','59.04','67.23','73.79','79.03','83.22','86.58',''][datum.value]","grid":true}},"y":{"field":"y","type":"quantitative","scale":{"domain":[0.78,0.86],"nice":false,"zero":false},"axis":{"title":"ROC-AUC ↑","values":[0.78,0.8,0.82,0.84,0.86],"format":".2~f","grid":true}},"color":{"field":"s","type":"nominal","legend":{"title":null}}}},
 {"data":{"name":"v"},"transform":[{"filter":"datum.p=='a'"}],"mark":{"type":"rule","strokeWidth":1.5,"opacity":0.75},"encoding":{"x":{"field":"x","type":"quantitative","scale":{"domain":[0,10],"nice":false,"zero":false},"axis":{"title":"Sparsity %","values":[0,1,2,3,4,5,6,7,8,9,10],"labelExpr":"['0.00','20.00','36.00','48.80','59.04','67.23','73.79','79.03','83.22','86.58',''][datum.value]","grid":true}},"color":{"field":"s","type":"nominal","legend":{"title":null}}}},
 {"data":{"name":"dn"},"transform":[{"filter":"datum.p=='a'"}],"mark":{"type":"rule","strokeWidth":1.3},"encoding":{"y":{"field":"y","type":"quantitative","scale":{"domain":[0.78,0.86],"nice":false,"zero":false},"axis":{"title":"ROC-AUC ↑","values":[0.78,0.8,0.82,0.84,0.86],"format":".2~f","grid":true}},"color":{"field":"s","type":"nominal","legend":{"title":null}},"strokeDash":{"field":"s","type":"nominal","scale":{"domain":["Dense","LTH","RP","OMP","SNIP","GraSP","SynFlow"],"range":[[6,2,1.5,2],[1,0],[1,0],[1,0],[1,0],[1,0],[1,0]]},"legend":{"title":null}}}}
]},
{"width":177,"height":121,"layer":[
 {"data":{"name":"d"},"transform":[{"filter":"datum.p=='b' && isValid(datum.l)"}],"mark":{"type":"area","opacity":0.2,"clip":true},"encoding":{"x":{"field":"x","type":"quantitative","scale":{"domain":[0,10],"nice":false,"zero":false},"axis":{"title":"Sparsity %","values":[0,1,2,3,4,5,6,7,8,9,10],"labelExpr":"['0.00','20.00','36.00','48.80','59.04','67.23','73.79','79.03','83.22','86.58',''][datum.value]","grid":true}},"y":{"field":"l","type":"quantitative","scale":{"domain":[0.78,0.86],"nice":false,"zero":false},"axis":{"title":null,"labels":false,"values":[0.78,0.8,0.82,0.84,0.86],"grid":true},"stack":null},"y2":{"field":"h"},"color":{"field":"s","type":"nominal","legend":{"title":null}}}},
 {"data":{"name":"d"},"transform":[{"filter":"datum.p=='b' && datum.w<=1"}],"mark":{"type":"line","strokeWidth":1.5,"clip":true},"encoding":{"x":{"field":"x","type":"quantitative","scale":{"domain":[0,10],"nice":false,"zero":false},"axis":{"title":"Sparsity %","values":[0,1,2,3,4,5,6,7,8,9,10],"labelExpr":"['0.00','20.00','36.00','48.80','59.04','67.23','73.79','79.03','83.22','86.58',''][datum.value]","grid":true}},"y":{"field":"y","type":"quantitative","scale":{"domain":[0.78,0.86],"nice":false,"zero":false},"axis":{"title":null,"labels":false,"values":[0.78,0.8,0.82,0.84,0.86],"grid":true}},"color":{"field":"s","type":"nominal","legend":{"title":null}}}},
 {"data":{"name":"d"},"transform":[{"filter":"datum.p=='b' && datum.w>=1"}],"mark":{"type":"line","strokeWidth":1.5,"strokeDash":[4,2],"clip":true},"encoding":{"x":{"field":"x","type":"quantitative","scale":{"domain":[0,10],"nice":false,"zero":false},"axis":{"title":"Sparsity %","values":[0,1,2,3,4,5,6,7,8,9,10],"labelExpr":"['0.00','20.00','36.00','48.80','59.04','67.23','73.79','79.03','83.22','86.58',''][datum.value]","grid":true}},"y":{"field":"y","type":"quantitative","scale":{"domain":[0.78,0.86],"nice":false,"zero":false},"axis":{"title":null,"labels":false,"values":[0.78,0.8,0.82,0.84,0.86],"grid":true}},"color":{"field":"s","type":"nominal","legend":{"title":null}}}},
 {"data":{"name":"v"},"transform":[{"filter":"datum.p=='b'"}],"mark":{"type":"rule","strokeWidth":1.5,"opacity":0.75},"encoding":{"x":{"field":"x","type":"quantitative","scale":{"domain":[0,10],"nice":false,"zero":false},"axis":{"title":"Sparsity %","values":[0,1,2,3,4,5,6,7,8,9,10],"labelExpr":"['0.00','20.00','36.00','48.80','59.04','67.23','73.79','79.03','83.22','86.58',''][datum.value]","grid":true}},"color":{"field":"s","type":"nominal","legend":{"title":null}}}},
 {"data":{"name":"dn"},"transform":[{"filter":"datum.p=='b'"}],"mark":{"type":"rule","strokeWidth":1.3},"encoding":{"y":{"field":"y","type":"quantitative","scale":{"domain":[0.78,0.86],"nice":false,"zero":false},"axis":{"title":null,"labels":false,"values":[0.78,0.8,0.82,0.84,0.86],"grid":true}},"color":{"field":"s","type":"nominal","legend":{"title":null}},"strokeDash":{"field":"s","type":"nominal","legend":{"title":null}}}}
]},
{"width":29.5,"height":121,"view":{"stroke":null},"data":{"values":[{"z":0}]},"mark":{"type":"point","opacity":0},"encoding":{}},
{"width":177,"height":121,"title":{"text":"CIFAR-10/CIFAR-100, ResNet-18","dx":101},"layer":[
 {"data":{"name":"d"},"transform":[{"filter":"datum.p=='c' && isValid(datum.l)"}],"mark":{"type":"area","opacity":0.2,"clip":true},"encoding":{"x":{"field":"x","type":"quantitative","scale":{"domain":[0,18],"nice":false,"zero":false},"axis":{"title":"Sparsity %","values":[0,1,2,3,4,5,6,7,8,9,10,11,12,13,14,15,16,17,18],"labelExpr":"['0.00','','36.00','','59.04','','73.79','','83.22','','89.26','','93.13','','95.60','','97.19','',''][datum.value]","grid":true}},"y":{"field":"l","type":"quantitative","scale":{"domain":[0.78,0.9],"nice":false,"zero":false},"axis":{"title":"ROC-AUC ↑","values":[0.79,0.81,0.83,0.85,0.87,0.89],"format":".2~f","grid":true},"stack":null},"y2":{"field":"h"},"color":{"field":"s","type":"nominal","legend":{"title":null}}}},
 {"data":{"name":"d"},"transform":[{"filter":"datum.p=='c' && datum.w<=1"}],"mark":{"type":"line","strokeWidth":1.5,"clip":true},"encoding":{"x":{"field":"x","type":"quantitative","scale":{"domain":[0,18],"nice":false,"zero":false},"axis":{"title":"Sparsity %","values":[0,1,2,3,4,5,6,7,8,9,10,11,12,13,14,15,16,17,18],"labelExpr":"['0.00','','36.00','','59.04','','73.79','','83.22','','89.26','','93.13','','95.60','','97.19','',''][datum.value]","grid":true}},"y":{"field":"y","type":"quantitative","scale":{"domain":[0.78,0.9],"nice":false,"zero":false},"axis":{"title":"ROC-AUC ↑","values":[0.79,0.81,0.83,0.85,0.87,0.89],"format":".2~f","grid":true}},"color":{"field":"s","type":"nominal","legend":{"title":null}}}},
 {"data":{"name":"d"},"transform":[{"filter":"datum.p=='c' && datum.w>=1"}],"mark":{"type":"line","strokeWidth":1.5,"strokeDash":[4,2],"clip":true},"encoding":{"x":{"field":"x","type":"quantitative","scale":{"domain":[0,18],"nice":false,"zero":false},"axis":{"title":"Sparsity %","values":[0,1,2,3,4,5,6,7,8,9,10,11,12,13,14,15,16,17,18],"labelExpr":"['0.00','','36.00','','59.04','','73.79','','83.22','','89.26','','93.13','','95.60','','97.19','',''][datum.value]","grid":true}},"y":{"field":"y","type":"quantitative","scale":{"domain":[0.78,0.9],"nice":false,"zero":false},"axis":{"title":"ROC-AUC ↑","values":[0.79,0.81,0.83,0.85,0.87,0.89],"format":".2~f","grid":true}},"color":{"field":"s","type":"nominal","legend":{"title":null}}}},
 {"data":{"name":"v"},"transform":[{"filter":"datum.p=='c'"}],"mark":{"type":"rule","strokeWidth":1.5,"opacity":0.75},"encoding":{"x":{"field":"x","type":"quantitative","scale":{"domain":[0,18],"nice":false,"zero":false},"axis":{"title":"Sparsity %","values":[0,1,2,3,4,5,6,7,8,9,10,11,12,13,14,15,16,17,18],"labelExpr":"['0.00','','36.00','','59.04','','73.79','','83.22','','89.26','','93.13','','95.60','','97.19','',''][datum.value]","grid":true}},"color":{"field":"s","type":"nominal","legend":{"title":null}}}},
 {"data":{"name":"dn"},"transform":[{"filter":"datum.p=='c'"}],"mark":{"type":"rule","strokeWidth":1.3},"encoding":{"y":{"field":"y","type":"quantitative","scale":{"domain":[0.78,0.9],"nice":false,"zero":false},"axis":{"title":"ROC-AUC ↑","values":[0.79,0.81,0.83,0.85,0.87,0.89],"format":".2~f","grid":true}},"color":{"field":"s","type":"nominal","legend":{"title":null}},"strokeDash":{"field":"s","type":"nominal","legend":{"title":null}}}}
]},
{"width":177,"height":121,"layer":[
 {"data":{"name":"d"},"transform":[{"filter":"datum.p=='d' && isValid(datum.l)"}],"mark":{"type":"area","opacity":0.2,"clip":true},"encoding":{"x":{"field":"x","type":"quantitative","scale":{"domain":[0,18],"nice":false,"zero":false},"axis":{"title":"Sparsity %","values":[0,1,2,3,4,5,6,7,8,9,10,11,12,13,14,15,16,17,18],"labelExpr":"['0.00','','36.00','','59.04','','73.79','','83.22','','89.26','','93.13','','95.60','','97.19','',''][datum.value]","grid":true}},"y":{"field":"l","type":"quantitative","scale":{"domain":[0.78,0.9],"nice":false,"zero":false},"axis":{"title":null,"labels":false,"values":[0.79,0.81,0.83,0.85,0.87,0.89],"grid":true},"stack":null},"y2":{"field":"h"},"color":{"field":"s","type":"nominal","legend":{"title":null}}}},
 {"data":{"name":"d"},"transform":[{"filter":"datum.p=='d' && datum.w<=1"}],"mark":{"type":"line","strokeWidth":1.5,"clip":true},"encoding":{"x":{"field":"x","type":"quantitative","scale":{"domain":[0,18],"nice":false,"zero":false},"axis":{"title":"Sparsity %","values":[0,1,2,3,4,5,6,7,8,9,10,11,12,13,14,15,16,17,18],"labelExpr":"['0.00','','36.00','','59.04','','73.79','','83.22','','89.26','','93.13','','95.60','','97.19','',''][datum.value]","grid":true}},"y":{"field":"y","type":"quantitative","scale":{"domain":[0.78,0.9],"nice":false,"zero":false},"axis":{"title":null,"labels":false,"values":[0.79,0.81,0.83,0.85,0.87,0.89],"grid":true}},"color":{"field":"s","type":"nominal","legend":{"title":null}}}},
 {"data":{"name":"d"},"transform":[{"filter":"datum.p=='d' && datum.w>=1"}],"mark":{"type":"line","strokeWidth":1.5,"strokeDash":[4,2],"clip":true},"encoding":{"x":{"field":"x","type":"quantitative","scale":{"domain":[0,18],"nice":false,"zero":false},"axis":{"title":"Sparsity %","values":[0,1,2,3,4,5,6,7,8,9,10,11,12,13,14,15,16,17,18],"labelExpr":"['0.00','','36.00','','59.04','','73.79','','83.22','','89.26','','93.13','','95.60','','97.19','',''][datum.value]","grid":true}},"y":{"field":"y","type":"quantitative","scale":{"domain":[0.78,0.9],"nice":false,"zero":false},"axis":{"title":null,"labels":false,"values":[0.79,0.81,0.83,0.85,0.87,0.89],"grid":true}},"color":{"field":"s","type":"nominal","legend":{"title":null}}}},
 {"data":{"name":"v"},"transform":[{"filter":"datum.p=='d'"}],"mark":{"type":"rule","strokeWidth":1.5,"opacity":0.75},"encoding":{"x":{"field":"x","type":"quantitative","scale":{"domain":[0,18],"nice":false,"zero":false},"axis":{"title":"Sparsity %","values":[0,1,2,3,4,5,6,7,8,9,10,11,12,13,14,15,16,17,18],"labelExpr":"['0.00','','36.00','','59.04','','73.79','','83.22','','89.26','','93.13','','95.60','','97.19','',''][datum.value]","grid":true}},"color":{"field":"s","type":"nominal","legend":{"title":null}}}},
 {"data":{"name":"dn"},"transform":[{"filter":"datum.p=='d'"}],"mark":{"type":"rule","strokeWidth":1.3},"encoding":{"y":{"field":"y","type":"quantitative","scale":{"domain":[0.78,0.9],"nice":false,"zero":false},"axis":{"title":null,"labels":false,"values":[0.79,0.81,0.83,0.85,0.87,0.89],"grid":true}},"color":{"field":"s","type":"nominal","legend":{"title":null}},"strokeDash":{"field":"s","type":"nominal","legend":{"title":null}}}}
]},
{"width":29.5,"height":121,"view":{"stroke":null},"data":{"values":[{"z":0}]},"mark":{"type":"point","opacity":0},"encoding":{}},
{"width":177,"height":121,"title":{"text":"CIFAR-10/CIFAR-100, Wide-ResNet-28-10","dx":81},"layer":[
 {"data":{"name":"d"},"transform":[{"filter":"datum.p=='e' && datum.w<=1"}],"mark":{"type":"line","strokeWidth":1.5,"clip":true},"encoding":{"x":{"field":"x","type":"quantitative","scale":{"domain":[0,24],"nice":false,"zero":false},"axis":{"title":"Sparsity %","values":[0,1,2,3,4,5,6,7,8,9,10,11,12,13,14,15,16,17,18,19,20,21,22,23,24],"labelExpr":"['0.00','','','48.80','','','73.79','','','86.58','','','93.13','','','96.48','','','98.20','','','99.08','','',''][datum.value]","grid":true}},"y":{"field":"y","type":"quantitative","scale":{"domain":[0.83,0.9],"nice":false,"zero":false},"axis":{"title":"ROC-AUC ↑","values":[0.84,0.85,0.86,0.87,0.88,0.89],"format":".2~f","grid":true}},"color":{"field":"s","type":"nominal","legend":{"title":null}}}},
 {"data":{"name":"d"},"transform":[{"filter":"datum.p=='e' && datum.w>=1"}],"mark":{"type":"line","strokeWidth":1.5,"strokeDash":[4,2],"clip":true},"encoding":{"x":{"field":"x","type":"quantitative","scale":{"domain":[0,24],"nice":false,"zero":false},"axis":{"title":"Sparsity %","values":[0,1,2,3,4,5,6,7,8,9,10,11,12,13,14,15,16,17,18,19,20,21,22,23,24],"labelExpr":"['0.00','','','48.80','','','73.79','','','86.58','','','93.13','','','96.48','','','98.20','','','99.08','','',''][datum.value]","grid":true}},"y":{"field":"y","type":"quantitative","scale":{"domain":[0.83,0.9],"nice":false,"zero":false},"axis":{"title":"ROC-AUC ↑","values":[0.84,0.85,0.86,0.87,0.88,0.89],"format":".2~f","grid":true}},"color":{"field":"s","type":"nominal","legend":{"title":null}}}},
 {"data":{"name":"v"},"transform":[{"filter":"datum.p=='e'"}],"mark":{"type":"rule","strokeWidth":1.5,"opacity":0.75},"encoding":{"x":{"field":"x","type":"quantitative","scale":{"domain":[0,24],"nice":false,"zero":false},"axis":{"title":"Sparsity %","values":[0,1,2,3,4,5,6,7,8,9,10,11,12,13,14,15,16,17,18,19,20,21,22,23,24],"labelExpr":"['0.00','','','48.80','','','73.79','','','86.58','','','93.13','','','96.48','','','98.20','','','99.08','','',''][datum.value]","grid":true}},"color":{"field":"s","type":"nominal","legend":{"title":null}}}},
 {"data":{"name":"dn"},"transform":[{"filter":"datum.p=='e'"}],"mark":{"type":"rule","strokeWidth":1.3},"encoding":{"y":{"field":"y","type":"quantitative","scale":{"domain":[0.83,0.9],"nice":false,"zero":false},"axis":{"title":"ROC-AUC ↑","values":[0.84,0.85,0.86,0.87,0.88,0.89],"format":".2~f","grid":true}},"color":{"field":"s","type":"nominal","legend":{"title":null}},"strokeDash":{"field":"s","type":"nominal","legend":{"title":null}}}}
]},
{"width":177,"height":121,"layer":[
 {"data":{"name":"d"},"transform":[{"filter":"datum.p=='f' && datum.w<=1"}],"mark":{"type":"line","strokeWidth":1.5,"clip":true},"encoding":{"x":{"field":"x","type":"quantitative","scale":{"domain":[0,24],"nice":false,"zero":false},"axis":{"title":"Sparsity %","values":[0,1,2,3,4,5,6,7,8,9,10,11,12,13,14,15,16,17,18,19,20,21,22,23,24],"labelExpr":"['0.00','','','48.80','','','73.79','','','86.58','','','93.13','','','96.48','','','98.20','','','99.08','','',''][datum.value]","grid":true}},"y":{"field":"y","type":"quantitative","scale":{"domain":[0.83,0.9],"nice":false,"zero":false},"axis":{"title":null,"labels":false,"values":[0.84,0.85,0.86,0.87,0.88,0.89],"grid":true}},"color":{"field":"s","type":"nominal","legend":{"title":null}}}},
 {"data":{"name":"d"},"transform":[{"filter":"datum.p=='f' && datum.w>=1"}],"mark":{"type":"line","strokeWidth":1.5,"strokeDash":[4,2],"clip":true},"encoding":{"x":{"field":"x","type":"quantitative","scale":{"domain":[0,24],"nice":false,"zero":false},"axis":{"title":"Sparsity %","values":[0,1,2,3,4,5,6,7,8,9,10,11,12,13,14,15,16,17,18,19,20,21,22,23,24],"labelExpr":"['0.00','','','48.80','','','73.79','','','86.58','','','93.13','','','96.48','','','98.20','','','99.08','','',''][datum.value]","grid":true}},"y":{"field":"y","type":"quantitative","scale":{"domain":[0.83,0.9],"nice":false,"zero":false},"axis":{"title":null,"labels":false,"values":[0.84,0.85,0.86,0.87,0.88,0.89],"grid":true}},"color":{"field":"s","type":"nominal","legend":{"title":null}}}},
 {"data":{"name":"v"},"transform":[{"filter":"datum.p=='f'"}],"mark":{"type":"rule","strokeWidth":1.5,"opacity":0.75},"encoding":{"x":{"field":"x","type":"quantitative","scale":{"domain":[0,24],"nice":false,"zero":false},"axis":{"title":"Sparsity %","values":[0,1,2,3,4,5,6,7,8,9,10,11,12,13,14,15,16,17,18,19,20,21,22,23,24],"labelExpr":"['0.00','','','48.80','','','73.79','','','86.58','','','93.13','','','96.48','','','98.20','','','99.08','','',''][datum.value]","grid":true}},"color":{"field":"s","type":"nominal","legend":{"title":null}}}},
 {"data":{"name":"dn"},"transform":[{"filter":"datum.p=='f'"}],"mark":{"type":"rule","strokeWidth":1.3},"encoding":{"y":{"field":"y","type":"quantitative","scale":{"domain":[0.83,0.9],"nice":false,"zero":false},"axis":{"title":null,"labels":false,"values":[0.84,0.85,0.86,0.87,0.88,0.89],"grid":true}},"color":{"field":"s","type":"nominal","legend":{"title":null}},"strokeDash":{"field":"s","type":"nominal","legend":{"title":null}}}}
]},
{"width":177,"height":121,"title":{"text":"CIFAR-100/CIFAR-10, ResNet-20","dx":101},"layer":[
 {"data":{"name":"d"},"transform":[{"filter":"datum.p=='g' && isValid(datum.l)"}],"mark":{"type":"area","opacity":0.2,"clip":true},"encoding":{"x":{"field":"x","type":"quantitative","scale":{"domain":[0,8],"nice":false,"zero":false},"axis":{"title":"Sparsity %","values":[0,1,2,3,4,5,6,7,8],"labelExpr":"['0.00','20.00','36.00','48.80','59.04','67.23','73.79','79.03',''][datum.value]","grid":true}},"y":{"field":"l","type":"quantitative","scale":{"domain":[0.66,0.71],"nice":false,"zero":false},"axis":{"title":"ROC-AUC ↑","values":[0.67,0.68,0.69,0.7],"format":".2~f","grid":true},"stack":null},"y2":{"field":"h"},"color":{"field":"s","type":"nominal","legend":{"title":null}}}},
 {"data":{"name":"d"},"transform":[{"filter":"datum.p=='g' && datum.w<=1"}],"mark":{"type":"line","strokeWidth":1.5,"clip":true},"encoding":{"x":{"field":"x","type":"quantitative","scale":{"domain":[0,8],"nice":false,"zero":false},"axis":{"title":"Sparsity %","values":[0,1,2,3,4,5,6,7,8],"labelExpr":"['0.00','20.00','36.00','48.80','59.04','67.23','73.79','79.03',''][datum.value]","grid":true}},"y":{"field":"y","type":"quantitative","scale":{"domain":[0.66,0.71],"nice":false,"zero":false},"axis":{"title":"ROC-AUC ↑","values":[0.67,0.68,0.69,0.7],"format":".2~f","grid":true}},"color":{"field":"s","type":"nominal","legend":{"title":null}}}},
 {"data":{"name":"d"},"transform":[{"filter":"datum.p=='g' && datum.w>=1"}],"mark":{"type":"line","strokeWidth":1.5,"strokeDash":[4,2],"clip":true},"encoding":{"x":{"field":"x","type":"quantitative","scale":{"domain":[0,8],"nice":false,"zero":false},"axis":{"title":"Sparsity %","values":[0,1,2,3,4,5,6,7,8],"labelExpr":"['0.00','20.00','36.00','48.80','59.04','67.23','73.79','79.03',''][datum.value]","grid":true}},"y":{"field":"y","type":"quantitative","scale":{"domain":[0.66,0.71],"nice":false,"zero":false},"axis":{"title":"ROC-AUC ↑","values":[0.67,0.68,0.69,0.7],"format":".2~f","grid":true}},"color":{"field":"s","type":"nominal","legend":{"title":null}}}},
 {"data":{"name":"v"},"transform":[{"filter":"datum.p=='g'"}],"mark":{"type":"rule","strokeWidth":1.5,"opacity":0.75},"encoding":{"x":{"field":"x","type":"quantitative","scale":{"domain":[0,8],"nice":false,"zero":false},"axis":{"title":"Sparsity %","values":[0,1,2,3,4,5,6,7,8],"labelExpr":"['0.00','20.00','36.00','48.80','59.04','67.23','73.79','79.03',''][datum.value]","grid":true}},"color":{"field":"s","type":"nominal","legend":{"title":null}}}},
 {"data":{"name":"dn"},"transform":[{"filter":"datum.p=='g'"}],"mark":{"type":"rule","strokeWidth":1.3},"encoding":{"y":{"field":"y","type":"quantitative","scale":{"domain":[0.66,0.71],"nice":false,"zero":false},"axis":{"title":"ROC-AUC ↑","values":[0.67,0.68,0.69,0.7],"format":".2~f","grid":true}},"color":{"field":"s","type":"nominal","legend":{"title":null}},"strokeDash":{"field":"s","type":"nominal","legend":{"title":null}}}}
]},
{"width":177,"height":121,"layer":[
 {"data":{"name":"d"},"transform":[{"filter":"datum.p=='h' && isValid(datum.l)"}],"mark":{"type":"area","opacity":0.2,"clip":true},"encoding":{"x":{"field":"x","type":"quantitative","scale":{"domain":[0,8],"nice":false,"zero":false},"axis":{"title":"Sparsity %","values":[0,1,2,3,4,5,6,7,8],"labelExpr":"['0.00','20.00','36.00','48.80','59.04','67.23','73.79','79.03',''][datum.value]","grid":true}},"y":{"field":"l","type":"quantitative","scale":{"domain":[0.66,0.71],"nice":false,"zero":false},"axis":{"title":null,"labels":false,"values":[0.67,0.68,0.69,0.7],"grid":true},"stack":null},"y2":{"field":"h"},"color":{"field":"s","type":"nominal","legend":{"title":null}}}},
 {"data":{"name":"d"},"transform":[{"filter":"datum.p=='h' && datum.w<=1"}],"mark":{"type":"line","strokeWidth":1.5,"clip":true},"encoding":{"x":{"field":"x","type":"quantitative","scale":{"domain":[0,8],"nice":false,"zero":false},"axis":{"title":"Sparsity %","values":[0,1,2,3,4,5,6,7,8],"labelExpr":"['0.00','20.00','36.00','48.80','59.04','67.23','73.79','79.03',''][datum.value]","grid":true}},"y":{"field":"y","type":"quantitative","scale":{"domain":[0.66,0.71],"nice":false,"zero":false},"axis":{"title":null,"labels":false,"values":[0.67,0.68,0.69,0.7],"grid":true}},"color":{"field":"s","type":"nominal","legend":{"title":null}}}},
 {"data":{"name":"d"},"transform":[{"filter":"datum.p=='h' && datum.w>=1"}],"mark":{"type":"line","strokeWidth":1.5,"strokeDash":[4,2],"clip":true},"encoding":{"x":{"field":"x","type":"quantitative","scale":{"domain":[0,8],"nice":false,"zero":false},"axis":{"title":"Sparsity %","values":[0,1,2,3,4,5,6,7,8],"labelExpr":"['0.00','20.00','36.00','48.80','59.04','67.23','73.79','79.03',''][datum.value]","grid":true}},"y":{"field":"y","type":"quantitative","scale":{"domain":[0.66,0.71],"nice":false,"zero":false},"axis":{"title":null,"labels":false,"values":[0.67,0.68,0.69,0.7],"grid":true}},"color":{"field":"s","type":"nominal","legend":{"title":null}}}},
 {"data":{"name":"v"},"transform":[{"filter":"datum.p=='h'"}],"mark":{"type":"rule","strokeWidth":1.5,"opacity":0.75},"encoding":{"x":{"field":"x","type":"quantitative","scale":{"domain":[0,8],"nice":false,"zero":false},"axis":{"title":"Sparsity %","values":[0,1,2,3,4,5,6,7,8],"labelExpr":"['0.00','20.00','36.00','48.80','59.04','67.23','73.79','79.03',''][datum.value]","grid":true}},"color":{"field":"s","type":"nominal","legend":{"title":null}}}},
 {"data":{"name":"dn"},"transform":[{"filter":"datum.p=='h'"}],"mark":{"type":"rule","strokeWidth":1.3},"encoding":{"y":{"field":"y","type":"quantitative","scale":{"domain":[0.66,0.71],"nice":false,"zero":false},"axis":{"title":null,"labels":false,"values":[0.67,0.68,0.69,0.7],"grid":true}},"color":{"field":"s","type":"nominal","legend":{"title":null}},"strokeDash":{"field":"s","type":"nominal","legend":{"title":null}}}}
]},
{"width":29.5,"height":121,"view":{"stroke":null},"data":{"values":[{"z":0}]},"mark":{"type":"point","opacity":0},"encoding":{}},
{"width":177,"height":121,"title":{"text":"CIFAR-100/CIFAR-10, ResNet-18","dx":101},"layer":[
 {"data":{"name":"d"},"transform":[{"filter":"datum.p=='i' && isValid(datum.l)"}],"mark":{"type":"area","opacity":0.2,"clip":true},"encoding":{"x":{"field":"x","type":"quantitative","scale":{"domain":[0,17],"nice":false,"zero":false},"axis":{"title":"Sparsity %","values":[0,1,2,3,4,5,6,7,8,9,10,11,12,13,14,15,16,17],"labelExpr":"['0.00','','36.00','','59.04','','73.79','','83.22','','89.26','','93.13','','95.60','','97.19',''][datum.value]","grid":true}},"y":{"field":"l","type":"quantitative","scale":{"domain":[0.67,0.77],"nice":false,"zero":false},"axis":{"title":"ROC-AUC ↑","values":[0.68,0.7,0.72,0.74,0.76],"format":".2~f","grid":true},"stack":null},"y2":{"field":"h"},"color":{"field":"s","type":"nominal","legend":{"title":null}}}},
 {"data":{"name":"d"},"transform":[{"filter":"datum.p=='i' && datum.w<=1"}],"mark":{"type":"line","strokeWidth":1.5,"clip":true},"encoding":{"x":{"field":"x","type":"quantitative","scale":{"domain":[0,17],"nice":false,"zero":false},"axis":{"title":"Sparsity %","values":[0,1,2,3,4,5,6,7,8,9,10,11,12,13,14,15,16,17],"labelExpr":"['0.00','','36.00','','59.04','','73.79','','83.22','','89.26','','93.13','','95.60','','97.19',''][datum.value]","grid":true}},"y":{"field":"y","type":"quantitative","scale":{"domain":[0.67,0.77],"nice":false,"zero":false},"axis":{"title":"ROC-AUC ↑","values":[0.68,0.7,0.72,0.74,0.76],"format":".2~f","grid":true}},"color":{"field":"s","type":"nominal","legend":{"title":null}}}},
 {"data":{"name":"d"},"transform":[{"filter":"datum.p=='i' && datum.w>=1"}],"mark":{"type":"line","strokeWidth":1.5,"strokeDash":[4,2],"clip":true},"encoding":{"x":{"field":"x","type":"quantitative","scale":{"domain":[0,17],"nice":false,"zero":false},"axis":{"title":"Sparsity %","values":[0,1,2,3,4,5,6,7,8,9,10,11,12,13,14,15,16,17],"labelExpr":"['0.00','','36.00','','59.04','','73.79','','83.22','','89.26','','93.13','','95.60','','97.19',''][datum.value]","grid":true}},"y":{"field":"y","type":"quantitative","scale":{"domain":[0.67,0.77],"nice":false,"zero":false},"axis":{"title":"ROC-AUC ↑","values":[0.68,0.7,0.72,0.74,0.76],"format":".2~f","grid":true}},"color":{"field":"s","type":"nominal","legend":{"title":null}}}},
 {"data":{"name":"v"},"transform":[{"filter":"datum.p=='i'"}],"mark":{"type":"rule","strokeWidth":1.5,"opacity":0.75},"encoding":{"x":{"field":"x","type":"quantitative","scale":{"domain":[0,17],"nice":false,"zero":false},"axis":{"title":"Sparsity %","values":[0,1,2,3,4,5,6,7,8,9,10,11,12,13,14,15,16,17],"labelExpr":"['0.00','','36.00','','59.04','','73.79','','83.22','','89.26','','93.13','','95.60','','97.19',''][datum.value]","grid":true}},"color":{"field":"s","type":"nominal","legend":{"title":null}}}},
 {"data":{"name":"dn"},"transform":[{"filter":"datum.p=='i'"}],"mark":{"type":"rule","strokeWidth":1.3},"encoding":{"y":{"field":"y","type":"quantitative","scale":{"domain":[0.67,0.77],"nice":false,"zero":false},"axis":{"title":"ROC-AUC ↑","values":[0.68,0.7,0.72,0.74,0.76],"format":".2~f","grid":true}},"color":{"field":"s","type":"nominal","legend":{"title":null}},"strokeDash":{"field":"s","type":"nominal","legend":{"title":null}}}}
]},
{"width":177,"height":121,"layer":[
 {"data":{"name":"d"},"transform":[{"filter":"datum.p=='j' && isValid(datum.l)"}],"mark":{"type":"area","opacity":0.2,"clip":true},"encoding":{"x":{"field":"x","type":"quantitative","scale":{"domain":[0,17],"nice":false,"zero":false},"axis":{"title":"Sparsity %","values":[0,1,2,3,4,5,6,7,8,9,10,11,12,13,14,15,16,17],"labelExpr":"['0.00','','36.00','','59.04','','73.79','','83.22','','89.26','','93.13','','95.60','','97.19',''][datum.value]","grid":true}},"y":{"field":"l","type":"quantitative","scale":{"domain":[0.67,0.77],"nice":false,"zero":false},"axis":{"title":null,"labels":false,"values":[0.68,0.7,0.72,0.74,0.76],"grid":true},"stack":null},"y2":{"field":"h"},"color":{"field":"s","type":"nominal","legend":{"title":null}}}},
 {"data":{"name":"d"},"transform":[{"filter":"datum.p=='j' && datum.w<=1"}],"mark":{"type":"line","strokeWidth":1.5,"clip":true},"encoding":{"x":{"field":"x","type":"quantitative","scale":{"domain":[0,17],"nice":false,"zero":false},"axis":{"title":"Sparsity %","values":[0,1,2,3,4,5,6,7,8,9,10,11,12,13,14,15,16,17],"labelExpr":"['0.00','','36.00','','59.04','','73.79','','83.22','','89.26','','93.13','','95.60','','97.19',''][datum.value]","grid":true}},"y":{"field":"y","type":"quantitative","scale":{"domain":[0.67,0.77],"nice":false,"zero":false},"axis":{"title":null,"labels":false,"values":[0.68,0.7,0.72,0.74,0.76],"grid":true}},"color":{"field":"s","type":"nominal","legend":{"title":null}}}},
 {"data":{"name":"d"},"transform":[{"filter":"datum.p=='j' && datum.w>=1"}],"mark":{"type":"line","strokeWidth":1.5,"strokeDash":[4,2],"clip":true},"encoding":{"x":{"field":"x","type":"quantitative","scale":{"domain":[0,17],"nice":false,"zero":false},"axis":{"title":"Sparsity %","values":[0,1,2,3,4,5,6,7,8,9,10,11,12,13,14,15,16,17],"labelExpr":"['0.00','','36.00','','59.04','','73.79','','83.22','','89.26','','93.13','','95.60','','97.19',''][datum.value]","grid":true}},"y":{"field":"y","type":"quantitative","scale":{"domain":[0.67,0.77],"nice":false,"zero":false},"axis":{"title":null,"labels":false,"values":[0.68,0.7,0.72,0.74,0.76],"grid":true}},"color":{"field":"s","type":"nominal","legend":{"title":null}}}},
 {"data":{"name":"v"},"transform":[{"filter":"datum.p=='j'"}],"mark":{"type":"rule","strokeWidth":1.5,"opacity":0.75},"encoding":{"x":{"field":"x","type":"quantitative","scale":{"domain":[0,17],"nice":false,"zero":false},"axis":{"title":"Sparsity %","values":[0,1,2,3,4,5,6,7,8,9,10,11,12,13,14,15,16,17],"labelExpr":"['0.00','','36.00','','59.04','','73.79','','83.22','','89.26','','93.13','','95.60','','97.19',''][datum.value]","grid":true}},"color":{"field":"s","type":"nominal","legend":{"title":null}}}},
 {"data":{"name":"dn"},"transform":[{"filter":"datum.p=='j'"}],"mark":{"type":"rule","strokeWidth":1.3},"encoding":{"y":{"field":"y","type":"quantitative","scale":{"domain":[0.67,0.77],"nice":false,"zero":false},"axis":{"title":null,"labels":false,"values":[0.68,0.7,0.72,0.74,0.76],"grid":true}},"color":{"field":"s","type":"nominal","legend":{"title":null}},"strokeDash":{"field":"s","type":"nominal","legend":{"title":null}}}}
]},
{"width":29.5,"height":121,"view":{"stroke":null},"data":{"values":[{"z":0}]},"mark":{"type":"point","opacity":0},"encoding":{}},
{"width":177,"height":121,"title":{"text":"CIFAR-100/CIFAR-10, Wide-ResNet-28-10","dx":81},"layer":[
 {"data":{"name":"d"},"transform":[{"filter":"datum.p=='k' && datum.w<=1"}],"mark":{"type":"line","strokeWidth":1.5,"clip":true},"encoding":{"x":{"field":"x","type":"quantitative","scale":{"domain":[0,21],"nice":false,"zero":false},"axis":{"title":"Sparsity %","values":[0,1,2,3,4,5,6,7,8,9,10,11,12,13,14,15,16,17,18,19,20,21],"labelExpr":"['0.00','','36.00','','59.04','','73.79','','83.22','','89.26','','93.13','','95.60','','97.19','','98.20','','98.85',''][datum.value]","grid":true}},"y":{"field":"y","type":"quantitative","scale":{"domain":[0.7,0.79],"nice":false,"zero":false},"axis":{"title":"ROC-AUC ↑","values":[0.7,0.72,0.74,0.76,0.78],"format":".2~f","grid":true}},"color":{"field":"s","type":"nominal","legend":{"title":null}}}},
 {"data":{"name":"d"},"transform":[{"filter":"datum.p=='k' && datum.w>=1"}],"mark":{"type":"line","strokeWidth":1.5,"strokeDash":[4,2],"clip":true},"encoding":{"x":{"field":"x","type":"quantitative","scale":{"domain":[0,21],"nice":false,"zero":false},"axis":{"title":"Sparsity %","values":[0,1,2,3,4,5,6,7,8,9,10,11,12,13,14,15,16,17,18,19,20,21],"labelExpr":"['0.00','','36.00','','59.04','','73.79','','83.22','','89.26','','93.13','','95.60','','97.19','','98.20','','98.85',''][datum.value]","grid":true}},"y":{"field":"y","type":"quantitative","scale":{"domain":[0.7,0.79],"nice":false,"zero":false},"axis":{"title":"ROC-AUC ↑","values":[0.7,0.72,0.74,0.76,0.78],"format":".2~f","grid":true}},"color":{"field":"s","type":"nominal","legend":{"title":null}}}},
 {"data":{"name":"v"},"transform":[{"filter":"datum.p=='k'"}],"mark":{"type":"rule","strokeWidth":1.5,"opacity":0.75},"encoding":{"x":{"field":"x","type":"quantitative","scale":{"domain":[0,21],"nice":false,"zero":false},"axis":{"title":"Sparsity %","values":[0,1,2,3,4,5,6,7,8,9,10,11,12,13,14,15,16,17,18,19,20,21],"labelExpr":"['0.00','','36.00','','59.04','','73.79','','83.22','','89.26','','93.13','','95.60','','97.19','','98.20','','98.85',''][datum.value]","grid":true}},"color":{"field":"s","type":"nominal","legend":{"title":null}}}},
 {"data":{"name":"dn"},"transform":[{"filter":"datum.p=='k'"}],"mark":{"type":"rule","strokeWidth":1.3},"encoding":{"y":{"field":"y","type":"quantitative","scale":{"domain":[0.7,0.79],"nice":false,"zero":false},"axis":{"title":"ROC-AUC ↑","values":[0.7,0.72,0.74,0.76,0.78],"format":".2~f","grid":true}},"color":{"field":"s","type":"nominal","legend":{"title":null}},"strokeDash":{"field":"s","type":"nominal","legend":{"title":null}}}}
]},
{"width":177,"height":121,"layer":[
 {"data":{"name":"d"},"transform":[{"filter":"datum.p=='l' && datum.w<=1"}],"mark":{"type":"line","strokeWidth":1.5,"clip":true},"encoding":{"x":{"field":"x","type":"quantitative","scale":{"domain":[0,21],"nice":false,"zero":false},"axis":{"title":"Sparsity %","values":[0,1,2,3,4,5,6,7,8,9,10,11,12,13,14,15,16,17,18,19,20,21],"labelExpr":"['0.00','','36.00','','59.04','','73.79','','83.22','','89.26','','93.13','','95.60','','97.19','','98.20','','98.85',''][datum.value]","grid":true}},"y":{"field":"y","type":"quantitative","scale":{"domain":[0.7,0.79],"nice":false,"zero":false},"axis":{"title":null,"labels":false,"values":[0.7,0.72,0.74,0.76,0.78],"grid":true}},"color":{"field":"s","type":"nominal","legend":{"title":null}}}},
 {"data":{"name":"d"},"transform":[{"filter":"datum.p=='l' && datum.w>=1"}],"mark":{"type":"line","strokeWidth":1.5,"strokeDash":[4,2],"clip":true},"encoding":{"x":{"field":"x","type":"quantitative","scale":{"domain":[0,21],"nice":false,"zero":false},"axis":{"title":"Sparsity %","values":[0,1,2,3,4,5,6,7,8,9,10,11,12,13,14,15,16,17,18,19,20,21],"labelExpr":"['0.00','','36.00','','59.04','','73.79','','83.22','','89.26','','93.13','','95.60','','97.19','','98.20','','98.85',''][datum.value]","grid":true}},"y":{"field":"y","type":"quantitative","scale":{"domain":[0.7,0.79],"nice":false,"zero":false},"axis":{"title":null,"labels":false,"values":[0.7,0.72,0.74,0.76,0.78],"grid":true}},"color":{"field":"s","type":"nominal","legend":{"title":null}}}},
 {"data":{"name":"v"},"transform":[{"filter":"datum.p=='l'"}],"mark":{"type":"rule","strokeWidth":1.5,"opacity":0.75},"encoding":{"x":{"field":"x","type":"quantitative","scale":{"domain":[0,21],"nice":false,"zero":false},"axis":{"title":"Sparsity %","values":[0,1,2,3,4,5,6,7,8,9,10,11,12,13,14,15,16,17,18,19,20,21],"labelExpr":"['0.00','','36.00','','59.04','','73.79','','83.22','','89.26','','93.13','','95.60','','97.19','','98.20','','98.85',''][datum.value]","grid":true}},"color":{"field":"s","type":"nominal","legend":{"title":null}}}},
 {"data":{"name":"dn"},"transform":[{"filter":"datum.p=='l'"}],"mark":{"type":"rule","strokeWidth":1.3},"encoding":{"y":{"field":"y","type":"quantitative","scale":{"domain":[0.7,0.79],"nice":false,"zero":false},"axis":{"title":null,"labels":false,"values":[0.7,0.72,0.74,0.76,0.78],"grid":true}},"color":{"field":"s","type":"nominal","legend":{"title":null}},"strokeDash":{"field":"s","type":"nominal","legend":{"title":null}}}}
]}
]
}
